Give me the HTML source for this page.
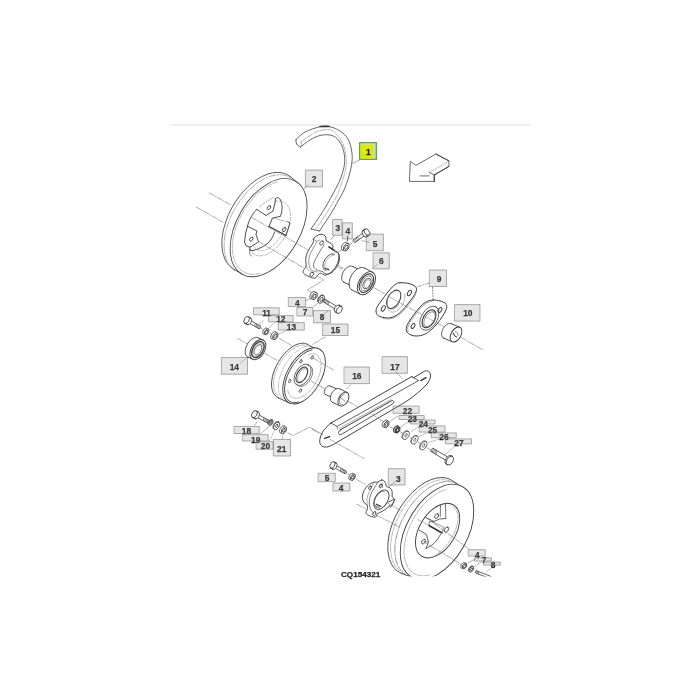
<!DOCTYPE html>
<html><head><meta charset="utf-8"><title>CQ154321</title>
<style>html,body{margin:0;padding:0;background:#fff}body{width:700px;height:700px;overflow:hidden;font-family:"Liberation Sans",sans-serif}svg{display:block;will-change:transform;opacity:.999}text{font-family:"Liberation Sans",sans-serif}</style>
</head><body>
<svg width="700" height="700" viewBox="0 0 700 700" stroke-linecap="round" stroke-linejoin="round">
<rect width="700" height="700" fill="#fff"/>
<rect x="171" y="124" width="359" height="1.8" fill="#eeeeee"/>
<path d="M296 139.5 C297.5 138.2 301 134.1 305 132 C309 129.9 316 127.6 320 126.7 C324 125.8 325.7 125.8 329 126.5 C332.3 127.2 336.8 128.9 340 131 C343.2 133.1 346.1 135.8 348 139 C349.9 142.2 350.8 146.2 351.5 150 C352.2 153.8 352.4 157.7 352 162 C351.6 166.3 350.3 171.3 349 176 C347.7 180.7 345.7 186 344 190 C342.3 194 340.9 195.8 338.6 200 C336.3 204.2 333.2 209.8 330 215 C326.8 220.2 321.2 228.3 319.5 231" fill="none" stroke="#555" stroke-width="0.9"/>
<path d="M300.5 147 C302.1 145.8 306.8 141.9 310 140 C313.2 138.1 316.7 136.3 320 135.5 C323.3 134.7 327.2 134.5 330 135 C332.8 135.5 335 136.7 337 138.5 C339 140.3 340.8 143.1 342 146 C343.2 148.9 344.2 152.5 344.5 156 C344.8 159.5 344.8 163 344 167 C343.2 171 341.5 176.2 340 180 C338.5 183.8 337.5 185.3 335 190 C332.5 194.7 329 201.5 325 208 C321 214.5 313.3 225.5 311 229" fill="none" stroke="#555" stroke-width="0.9"/>
<path d="M301 141.8 C303.3 140.2 311 134.5 315 132.5 C319 130.5 321.8 129.9 325 129.7 C328.2 129.5 331 129.1 334 131.5 C337 133.9 340.9 139.2 343 144 C345.1 148.8 346 155.3 346.3 160 C346.6 164.7 346.1 167.3 345 172 C343.9 176.7 341.6 183.7 340 188 C338.4 192.3 338 193.7 335.7 198 C333.4 202.3 329.2 208.9 326 214 C322.8 219.1 318 226.1 316.4 228.5" fill="none" stroke="#888" stroke-width="0.6" stroke-dasharray="6 1.5"/>
<path d="M296 139.5 C296.1 140.2 295.9 142.8 296.6 144 C297.4 145.2 299.9 146.5 300.5 147" fill="none" stroke="#444" stroke-width="0.9"/>
<path d="M301 141.8 C301.2 142.3 302.1 144.1 302 145 C301.9 145.9 300.8 146.7 300.5 147" fill="none" stroke="#777" stroke-width="0.6"/>
<path d="M311 229 L319.5 231" fill="none" stroke="#555" stroke-width="0.9"/>
<path d="M320 126.5 L329 126.5" fill="none" stroke="#333" stroke-width="1.3"/>
<path d="M234.6 269.7 C234 269.2 232 268.1 230.8 267.1 C229.6 266.1 228.6 265 227.6 263.7 C226.6 262.4 225.8 260.9 225 259.4 C224.3 257.8 223.7 256.1 223.2 254.3 C222.7 252.5 222.4 250.6 222.2 248.6 C221.9 246.6 221.8 244.5 221.9 242.4 C221.9 240.2 222.1 238 222.4 235.7 C222.7 233.4 223.1 231.1 223.7 228.8 C224.3 226.4 225 224 225.8 221.7 C226.6 219.3 227.5 217 228.5 214.6 C229.5 212.3 230.7 210 231.9 207.7 C233.2 205.5 234.5 203.2 235.9 201.1 C237.4 199 238.9 196.9 240.5 194.9 C242 192.9 243.7 191 245.4 189.3 C247.1 187.5 248.8 185.8 250.6 184.3 C252.4 182.8 254.2 181.3 256.1 180.1 C257.9 178.8 259.8 177.7 261.6 176.7 C263.4 175.8 265.3 175 267.1 174.3 C269 173.7 270.8 173.2 272.5 172.9 C274.3 172.5 276 172.4 277.7 172.4 C279.3 172.4 281 172.6 282.5 172.9 C284 173.3 285.5 173.8 286.9 174.5 C288.2 175.2 290.1 176.6 290.7 177" fill="none" stroke="#4a4a4a" stroke-width="0.9"/>
<path d="M290.7 177 L299 183.8" fill="none" stroke="#4a4a4a" stroke-width="0.9"/>
<path d="M234.6 269.7 L242.8 274.5" fill="none" stroke="#4a4a4a" stroke-width="0.9"/>
<path d="M234.9 270.7 C234.3 270.2 232.5 268.9 231.4 267.7 C230.3 266.6 229.3 265.3 228.5 263.8 C227.6 262.4 226.9 260.8 226.3 259.2 C225.7 257.5 225.2 255.7 224.9 253.8 C224.5 251.9 224.3 249.9 224.2 247.8 C224.1 245.7 224.1 243.5 224.3 241.3 C224.5 239.1 224.8 236.8 225.2 234.5 C225.6 232.2 226.2 229.9 226.9 227.5 C227.6 225.2 228.4 222.8 229.3 220.4 C230.2 218.1 231.2 215.7 232.4 213.4 C233.5 211.1 234.8 208.9 236.1 206.7 C237.4 204.5 238.9 202.3 240.4 200.2 C241.9 198.2 243.5 196.2 245.1 194.3 C246.7 192.4 248.4 190.7 250.2 189 C251.9 187.3 253.7 185.8 255.5 184.4 C257.3 183 259.2 181.7 261 180.6 C262.9 179.5 264.7 178.5 266.6 177.7 C268.4 176.9 270.3 176.3 272.1 175.8 C273.8 175.3 275.6 175 277.3 174.8 C279.1 174.7 280.7 174.7 282.3 174.9 C283.9 175.1 285.5 175.4 286.9 176 C288.4 176.5 290.4 177.7 291 178" fill="none" stroke="#777" stroke-width="0.6" stroke-dasharray="7 1.5 1.5 1.5"/>
<ellipse cx="268.6" cy="227.6" rx="53.6" ry="31.8" transform="rotate(-60 268.6 227.6)" fill="none" stroke="#4a4a4a" stroke-width="0.9"/>
<path d="M259.9 273.4 C259.1 273.5 256.5 274.1 254.9 274.2 C253.3 274.3 251.8 274.3 250.3 274.1 C248.8 273.9 247.4 273.5 246 273 C244.7 272.5 243.4 271.8 242.2 271 C241 270.2 239.9 269.2 238.9 268.1 C237.9 267 237 265.8 236.2 264.4 C235.5 263 234.8 261.5 234.3 259.9 C233.7 258.3 233.3 256.6 233 254.8 C232.6 253 232.5 251.1 232.4 249.1 C232.3 247.2 232.4 245.1 232.6 243 C232.8 240.9 233.1 238.8 233.5 236.6 C233.9 234.4 234.5 232.2 235.1 230 C235.8 227.8 236.6 225.5 237.5 223.3 C238.4 221.1 239.4 218.9 240.4 216.8 C241.5 214.6 242.7 212.5 244 210.4 C245.3 208.4 246.6 206.3 248 204.4 C249.5 202.5 251 200.6 252.5 198.9 C254.1 197.1 255.7 195.5 257.3 193.9 C259 192.4 260.7 191 262.4 189.7 C264.1 188.4 265.8 187.2 267.6 186.2 C269.3 185.2 271.1 184.3 272.8 183.5 C274.5 182.8 277.1 182.1 277.9 181.8" fill="none" stroke="#888" stroke-width="0.6" stroke-dasharray="5 1.2"/>
<path d="M274.6 201.5 C275 201.4 276.5 201.1 277.4 201 C278.4 200.9 279.3 201 280.1 201.1 C281 201.2 281.8 201.4 282.6 201.7 C283.4 202 284.1 202.3 284.8 202.8 C285.5 203.3 286.2 203.8 286.7 204.5 C287.3 205.1 287.8 205.8 288.3 206.6 C288.7 207.4 289.1 208.2 289.5 209.2 C289.8 210.1 290 211.1 290.2 212.1 C290.4 213.1 290.5 214.2 290.6 215.4 C290.6 216.5 290.6 217.7 290.5 218.9 C290.4 220.1 290.2 221.4 290 222.6 C289.7 223.9 289.4 225.2 289.1 226.5 C288.7 227.7 288.2 229.1 287.7 230.3 C287.2 231.6 286.7 232.9 286.1 234.2 C285.4 235.4 284.8 236.7 284 237.9 C283.3 239.1 282.5 240.3 281.7 241.4 C280.9 242.6 280 243.7 279.1 244.7 C278.3 245.7 277.3 246.7 276.4 247.7 C275.4 248.6 274.4 249.4 273.5 250.2 C272.5 251 271.5 251.7 270.5 252.3 C269.5 253 268.4 253.5 267.4 254 C266.4 254.5 265.4 254.8 264.5 255.1 C263.5 255.4 262.5 255.6 261.6 255.7 C260.6 255.8 259.7 255.9 258.8 255.8 C257.9 255.7 257.1 255.6 256.3 255.3 C255.5 255 254.7 254.7 254 254.3 C253.3 253.8 252.6 253.3 252 252.7 C251.4 252.1 250.9 251.5 250.4 250.7 C249.9 250 249.4 248.6 249.2 248.2" fill="none" stroke="#888" stroke-width="0.6" stroke-dasharray="3 1.5"/>
<path d="M284.6 227.7 C284.4 228.2 283.9 229.8 283.4 230.9 C282.9 232 282.4 233.1 281.9 234.1 C281.3 235.1 280.7 236.2 280.1 237.2 C279.4 238.2 278.7 239.1 278 240.1 C277.3 241 276.6 241.9 275.8 242.7 C275 243.5 274.2 244.3 273.4 245 C272.6 245.7 271.8 246.4 270.9 247 C270.1 247.6 269.2 248.1 268.4 248.5 C267.5 249 266.7 249.4 265.9 249.7 C265 250 264.2 250.2 263.4 250.4 C262.6 250.5 261.8 250.6 261.1 250.6 C260.3 250.6 259.6 250.5 258.9 250.3 C258.2 250.2 257.5 249.9 256.9 249.6 C256.3 249.3 255.7 248.9 255.2 248.4 C254.7 248 254 247.1 253.8 246.8" fill="none" stroke="#999" stroke-width="0.6" stroke-dasharray="3 1.5"/>
<path d="M247.5 226 C247.9 224.8 248.9 221.2 250 219 C251.1 216.8 252.8 214.1 254 212.5 C255.2 210.9 256.5 210 257 209.5" fill="none" stroke="#3a3a3a" stroke-width="0.9"/>
<path d="M257 209.5 L260 211.5 L266 215.5 L273 211 L275 203 L275.5 199" fill="none" stroke="#3a3a3a" stroke-width="0.9"/>
<path d="M260 207 L261.5 204.8 L273 197.5 L275.5 199" fill="none" stroke="#888" stroke-width="0.6" stroke-dasharray="3 1.2"/>
<path d="M275.5 199 C275.9 198.8 277.2 197.3 278 197.5 C278.8 197.7 279.8 198.6 280.5 200 C281.2 201.4 281.8 203.8 282 206 C282.2 208.2 281.8 211.2 281.5 213 C281.2 214.8 280.2 215.9 280 216.5" fill="none" stroke="#3a3a3a" stroke-width="0.9"/>
<path d="M280 216.5 L272.5 218 L269 226.5" fill="none" stroke="#3a3a3a" stroke-width="0.9"/>
<path d="M269 226.5 L286 235.5" fill="none" stroke="#333" stroke-width="1.2"/>
<path d="M286 235.5 L290 223 L287.8 221.8" fill="none" stroke="#3a3a3a" stroke-width="0.9"/>
<path d="M273 218.2 L287.8 221.8" fill="none" stroke="#888" stroke-width="0.6" stroke-dasharray="3 1.2"/>
<path d="M274.5 232 C274.1 233 273.2 236 272 238 C270.8 240 269 242.3 267 244 C265 245.7 262.3 246.9 260 248 C257.7 249.1 254.7 250.2 253 250.5 C251.3 250.8 250.5 250.1 250 250" fill="none" stroke="#3a3a3a" stroke-width="0.9"/>
<path d="M250 250 C249.9 250.7 249.2 253 249.5 254 C249.8 255 251.6 255.7 252 256" fill="none" stroke="#666" stroke-width="0.7"/>
<path d="M247.5 226.2 L257 231 L256 234.5 L258.5 242 L250 247.2 L246.2 246 L244.5 242 L245.5 234 L247.5 226.2" fill="none" stroke="#3a3a3a" stroke-width="0.9"/>
<path d="M250 247.2 L250 250" fill="none" stroke="#3a3a3a" stroke-width="0.9"/>
<ellipse cx="269" cy="207.6" rx="2.2" ry="1.5" transform="rotate(-50 269 207.6)" fill="none" stroke="#3a3a3a" stroke-width="0.8"/>
<ellipse cx="284.2" cy="229.5" rx="2.3" ry="1.6" transform="rotate(-55 284.2 229.5)" fill="none" stroke="#3a3a3a" stroke-width="0.8"/>
<ellipse cx="251.3" cy="239.2" rx="2.2" ry="1.5" transform="rotate(-50 251.3 239.2)" fill="none" stroke="#3a3a3a" stroke-width="0.8"/>
<path d="M313.4 239.1 C313.8 238.2 314.5 237.4 315.6 236.6 C316.6 235.8 318.5 234.7 319.9 234.4 C321.2 234.1 322.7 234.4 323.7 234.9 C324.7 235.3 325.4 236 325.9 237 C326.3 238 325.4 239.8 326.3 240.9 C327.1 241.9 329.9 242.5 331 243.4 C332.1 244.4 332.9 245.5 333.1 246.4 C333.4 247.4 331.9 247.9 332.7 249 C333.6 250.1 337.3 251.3 338.3 252.9 C339.3 254.4 338.9 256.6 338.7 258.4 C338.6 260.2 338.1 261.9 337.4 263.6 C336.7 265.3 335.6 267.1 334.4 268.7 C333.2 270.3 331.7 271.9 330.1 273 C328.6 274.1 326.6 275.1 325 275.1 C323.4 275.2 322 273.1 320.7 273.2 C319.4 273.2 318.2 274.7 317.3 275.6 C316.4 276.4 316.3 277.9 315.1 278.1 C314 278.4 311.9 277.8 310.4 277.3 C308.9 276.8 307.4 275.9 306.1 275.1 C304.9 274.4 303.5 273.5 303.1 272.6 C302.8 271.6 303.5 270.6 304 269.6 C304.5 268.5 305.9 267.9 306.1 266.1 C306.4 264.4 305.5 261.6 305.7 259.3 C305.9 257 306.6 254.6 307.4 252.4 C308.3 250.3 309.9 248.1 310.9 246.4 C311.9 244.7 313 243.4 313.4 242.1 C313.9 240.9 313.1 240.1 313.4 239.1 Z" fill="none" stroke="#3a3a3a" stroke-width="0.9"/>
<path d="M316.9 241.3 C316.3 242.4 314.6 246 313.4 248.1 C312.3 250.3 310.8 252 310 254.1 C309.2 256.3 308.8 258.9 308.7 261 C308.6 263.1 309 265.4 309.6 267 C310.1 268.6 310.9 269.6 312.1 270.4 C313.4 271.3 316.4 271.7 317.3 272" fill="none" stroke="#666" stroke-width="0.7"/>
<path d="M324.1 244.7 C323.6 245.6 322 247.7 320.7 249.9 C319.4 252 317.6 255.3 316.4 257.6 C315.3 259.9 314 261.9 313.7 263.6 C313.3 265.3 313.6 266.7 314.3 267.9 C315 269 316.4 269.8 317.7 270.4 C319.1 271 321.6 271.3 322.4 271.5" fill="none" stroke="#555" stroke-width="0.8"/>
<path d="M313.4 239.1 C314 239.5 315.8 241.1 316.9 241.3 C317.9 241.4 319.4 240.2 319.9 240" fill="none" stroke="#666" stroke-width="0.7"/>
<path d="M334.4 251.7 C334.6 251.8 335.1 251.8 335.5 251.8 C335.8 251.9 336.2 252 336.5 252.1 C336.8 252.3 337.1 252.4 337.4 252.6 C337.6 252.9 337.9 253.1 338.1 253.4 C338.3 253.6 338.5 254 338.7 254.3 C338.9 254.6 339 255 339.2 255.4 C339.3 255.8 339.4 256.2 339.4 256.6 C339.5 257.1 339.5 257.5 339.5 258 C339.5 258.5 339.5 259 339.4 259.5 C339.4 260 339.3 260.5 339.2 261 C339.1 261.5 338.9 262.1 338.8 262.6 C338.6 263.1 338.4 263.7 338.2 264.2 C338 264.7 337.7 265.2 337.5 265.7 C337.2 266.3 336.9 266.8 336.6 267.2 C336.3 267.7 335.9 268.2 335.6 268.7 C335.3 269.1 334.9 269.5 334.5 270 C334.1 270.4 333.8 270.8 333.4 271.1 C333 271.5 332.6 271.8 332.2 272.1 C331.8 272.4 331.3 272.7 330.9 272.9 C330.5 273.1 330.1 273.3 329.7 273.5 C329.3 273.7 328.9 273.8 328.5 273.9 C328.1 274 327.7 274 327.3 274.1 C326.9 274.1 326.6 274.1 326.2 274 C325.9 273.9 325.5 273.8 325.2 273.7 C324.9 273.6 324.6 273.4 324.3 273.2 C324 273 323.8 272.8 323.5 272.5 C323.3 272.2 323 271.7 322.9 271.6" fill="none" stroke="#3a3a3a" stroke-width="0.9"/>
<path d="M325.9 270.6 C325.8 270.6 325.4 270.5 325.2 270.4 C324.9 270.2 324.7 270.1 324.5 269.9 C324.3 269.8 324.1 269.6 324 269.3 C323.8 269.1 323.7 268.9 323.6 268.6 C323.4 268.4 323.3 268.1 323.3 267.8 C323.2 267.5 323.1 267.2 323.1 266.8 C323 266.5 323 266.1 323 265.8 C323 265.4 323.1 265 323.1 264.7 C323.2 264.3 323.3 263.9 323.3 263.5 C323.4 263.1 323.6 262.7 323.7 262.3 C323.8 261.9 324 261.5 324.2 261.1 C324.3 260.7 324.5 260.3 324.7 260 C324.9 259.6 325.2 259.2 325.4 258.8 C325.6 258.5 325.9 258.1 326.2 257.8 C326.4 257.4 326.7 257.1 327 256.8 C327.3 256.5 327.6 256.2 327.9 256 C328.1 255.7 328.5 255.5 328.8 255.3 C329.1 255 329.4 254.8 329.7 254.7 C330 254.5 330.3 254.4 330.6 254.3 C330.9 254.1 331.2 254 331.5 254 C331.8 253.9 332.1 253.9 332.4 253.9 C332.7 253.9 332.9 253.9 333.2 254 C333.5 254 333.7 254.1 333.9 254.2 C334.2 254.3 334.5 254.5 334.6 254.6" fill="none" stroke="#3a3a3a" stroke-width="0.9"/>
<path d="M326.2 269.7 C326.1 269.6 325.8 269.4 325.7 269.2 C325.5 269 325.4 268.8 325.3 268.5 C325.1 268.3 325.1 268 325 267.8 C324.9 267.5 324.8 267.2 324.8 266.9 C324.8 266.6 324.8 266.3 324.8 266 C324.8 265.7 324.8 265.3 324.8 265 C324.9 264.6 324.9 264.3 325 263.9 C325.1 263.6 325.2 263.2 325.3 262.8 C325.5 262.5 325.6 262.1 325.8 261.8 C325.9 261.4 326.1 261.1 326.3 260.7 C326.5 260.4 326.7 260 326.9 259.7 C327.1 259.4 327.3 259.1 327.6 258.8 C327.8 258.5 328 258.2 328.3 257.9 C328.6 257.6 328.8 257.4 329.1 257.1 C329.4 256.9 329.6 256.7 329.9 256.5 C330.2 256.3 330.5 256.1 330.8 256 C331 255.8 331.3 255.7 331.6 255.6 C331.9 255.5 332.1 255.4 332.4 255.4 C332.7 255.3 332.9 255.3 333.2 255.3 C333.4 255.3 333.8 255.4 333.9 255.4" fill="none" stroke="#777" stroke-width="0.6"/>
<path d="M328.9 246.9 L333.6 250" fill="none" stroke="#333" stroke-width="1.6"/>
<path d="M325.2 268.3 L328.9 269.6" fill="none" stroke="#444" stroke-width="1.3"/>
<ellipse cx="321.6" cy="243" rx="2.3" ry="1.6" transform="rotate(-55 321.6 243)" fill="none" stroke="#3a3a3a" stroke-width="0.8"/>
<ellipse cx="311.8" cy="274.3" rx="2.3" ry="1.6" transform="rotate(-55 311.8 274.3)" fill="none" stroke="#3a3a3a" stroke-width="0.8"/>
<path d="M306.1 266.1 C306.4 266.7 307 268.7 307.9 269.6 C308.7 270.4 310.7 271 311.3 271.3" fill="none" stroke="#777" stroke-width="0.6"/>
<path d="M364.1 232.3 L353.3 239.7" fill="none" stroke="#3a3a3a" stroke-width="0.8"/>
<path d="M365.9 234.8 L355.1 242.3" fill="none" stroke="#3a3a3a" stroke-width="0.8"/>
<path d="M353.3 239.7 C353.3 239.9 352.9 240.5 353 240.9 C353.1 241.3 353.6 241.9 353.9 242.1 C354.2 242.4 354.9 242.3 355.1 242.3" fill="none" stroke="#3a3a3a" stroke-width="0.8"/>
<path d="M353.7 239.7 L355.9 241.5" fill="none" stroke="#555" stroke-width="0.7"/>
<path d="M354.9 238.8 L357.1 240.7" fill="none" stroke="#555" stroke-width="0.7"/>
<path d="M356.1 238 L358.4 239.8" fill="none" stroke="#555" stroke-width="0.7"/>
<path d="M357.4 237.1 L359.6 239" fill="none" stroke="#555" stroke-width="0.7"/>
<g>
<ellipse cx="365" cy="233.6" rx="3.8" ry="2.4" transform="rotate(-124.5 365 233.6)" fill="#fff" stroke="#3a3a3a" stroke-width="0.8"/>
<ellipse cx="367" cy="232.2" rx="3.8" ry="2.4" transform="rotate(-124.5 367 232.2)" fill="#fff" stroke="#3a3a3a" stroke-width="0.8"/>
</g>
<path d="M364.8 229.1 L362.9 230.4" fill="none" stroke="#3a3a3a" stroke-width="0.8"/>
<path d="M369.2 235.3 L367.2 236.7" fill="none" stroke="#3a3a3a" stroke-width="0.8"/>
<path d="M349.1 244.2 L348.9 247.9 L346.1 251.1 L343.5 250.4 L343.7 246.7 L346.5 243.5 Z" fill="none" stroke="#3a3a3a" stroke-width="0.9"/>
<path d="M342.6 250.3 C342.5 250.3 342.3 250.2 342.2 250.1 C342.1 250 342 250 341.9 249.9 C341.8 249.8 341.8 249.6 341.7 249.5 C341.6 249.4 341.6 249.3 341.5 249.1 C341.5 249 341.4 248.8 341.4 248.7 C341.4 248.5 341.3 248.3 341.3 248.2 C341.3 248 341.3 247.8 341.3 247.6 C341.4 247.5 341.4 247.3 341.4 247.1 C341.5 246.9 341.5 246.7 341.6 246.5 C341.6 246.3 341.7 246.1 341.8 245.9 C341.8 245.7 341.9 245.5 342 245.3 C342.1 245.1 342.2 245 342.3 244.8 C342.4 244.6 342.6 244.4 342.7 244.3 C342.8 244.1 342.9 243.9 343.1 243.8 C343.2 243.6 343.3 243.5 343.5 243.3 C343.6 243.2 343.8 243.1 343.9 243 C344.1 242.9 344.2 242.7 344.4 242.7 C344.5 242.6 344.7 242.5 344.9 242.4 C345 242.4 345.2 242.3 345.3 242.3 C345.5 242.2 345.6 242.2 345.8 242.2 C345.9 242.2 346 242.2 346.2 242.2 C346.3 242.2 346.4 242.3 346.6 242.3 C346.7 242.3 346.8 242.4 346.9 242.5 C347 242.5 347.2 242.7 347.2 242.7" fill="none" stroke="#3a3a3a" stroke-width="0.9"/>
<ellipse cx="346.3" cy="247.3" rx="2.2" ry="1.4" transform="rotate(-60 346.3 247.3)" fill="none" stroke="#3a3a3a" stroke-width="0.8"/>
<path d="M342.3 249.5 L338 252.3" fill="none" stroke="#777" stroke-width="0.6" stroke-dasharray="5 1.5 1 1.5"/>
<path d="M350.3 244.3 L352.4 242.6" fill="none" stroke="#777" stroke-width="0.6" stroke-dasharray="5 1.5 1 1.5"/>
<path d="M317.2 293.3 L317 296.8 L314.3 299.7 L311.8 299.1 L312 295.6 L314.7 292.7 Z" fill="none" stroke="#3a3a3a" stroke-width="0.9"/>
<path d="M311 299 C311 299 310.8 298.9 310.7 298.8 C310.6 298.8 310.5 298.7 310.4 298.6 C310.3 298.5 310.3 298.4 310.2 298.3 C310.1 298.2 310.1 298 310 297.9 C310 297.8 309.9 297.6 309.9 297.5 C309.9 297.3 309.9 297.2 309.9 297 C309.9 296.9 309.9 296.7 309.9 296.5 C309.9 296.3 309.9 296.2 310 296 C310 295.8 310 295.6 310.1 295.4 C310.1 295.3 310.2 295.1 310.3 294.9 C310.3 294.7 310.4 294.5 310.5 294.4 C310.6 294.2 310.7 294 310.8 293.8 C310.9 293.7 311 293.5 311.1 293.4 C311.2 293.2 311.4 293.1 311.5 292.9 C311.6 292.8 311.7 292.6 311.9 292.5 C312 292.4 312.2 292.3 312.3 292.2 C312.4 292.1 312.6 292 312.7 291.9 C312.9 291.8 313 291.7 313.2 291.7 C313.3 291.6 313.4 291.5 313.6 291.5 C313.7 291.5 313.9 291.5 314 291.4 C314.1 291.4 314.3 291.4 314.4 291.5 C314.5 291.5 314.6 291.5 314.7 291.5 C314.9 291.6 315 291.6 315.1 291.7 C315.2 291.8 315.3 291.9 315.3 291.9" fill="none" stroke="#3a3a3a" stroke-width="0.9"/>
<ellipse cx="314.5" cy="296.2" rx="2" ry="1.3" transform="rotate(-60 314.5 296.2)" fill="none" stroke="#3a3a3a" stroke-width="0.8"/>
<ellipse cx="321.4" cy="299.3" rx="4.3" ry="2.6" transform="rotate(-60 321.4 299.3)" fill="none" stroke="#3a3a3a" stroke-width="0.8"/>
<path d="M318.8 302.7 C318.7 302.7 318.5 302.6 318.4 302.5 C318.3 302.5 318.2 302.4 318.2 302.3 C318.1 302.2 318 302.1 317.9 302 C317.9 301.8 317.8 301.7 317.8 301.6 C317.7 301.4 317.7 301.3 317.7 301.1 C317.6 301 317.6 300.8 317.6 300.6 C317.6 300.5 317.6 300.3 317.6 300.1 C317.6 299.9 317.7 299.8 317.7 299.6 C317.8 299.4 317.8 299.2 317.9 299 C317.9 298.8 318 298.6 318.1 298.4 C318.1 298.3 318.2 298.1 318.3 297.9 C318.4 297.7 318.5 297.5 318.6 297.3 C318.7 297.2 318.9 297 319 296.8 C319.1 296.7 319.2 296.5 319.4 296.4 C319.5 296.2 319.6 296.1 319.8 296 C319.9 295.8 320.1 295.7 320.2 295.6 C320.4 295.5 320.5 295.4 320.7 295.3 C320.8 295.3 321 295.2 321.1 295.1 C321.3 295.1 321.4 295 321.6 295 C321.7 295 321.8 295 322 295 C322.1 295 322.2 295 322.4 295 C322.5 295 322.6 295.1 322.7 295.1 C322.8 295.2 323 295.3 323 295.3" fill="none" stroke="#3a3a3a" stroke-width="0.8"/>
<ellipse cx="321.4" cy="299.3" rx="2.1" ry="1.3" transform="rotate(-60 321.4 299.3)" fill="none" stroke="#3a3a3a" stroke-width="0.8"/>
<path d="M338.1 307.2 L324.8 299.2" fill="none" stroke="#3a3a3a" stroke-width="0.8"/>
<path d="M336.5 309.9 L323.2 301.8" fill="none" stroke="#3a3a3a" stroke-width="0.8"/>
<path d="M324.8 299.2 C324.6 299.2 324 299.1 323.6 299.4 C323.3 299.6 322.9 300.3 322.8 300.7 C322.8 301.1 323.1 301.6 323.2 301.8" fill="none" stroke="#3a3a3a" stroke-width="0.8"/>
<path d="M325 299.5 L324.2 302.3" fill="none" stroke="#555" stroke-width="0.7"/>
<path d="M326.3 300.2 L325.5 303" fill="none" stroke="#555" stroke-width="0.7"/>
<path d="M327.5 301 L326.8 303.8" fill="none" stroke="#555" stroke-width="0.7"/>
<path d="M328.8 301.8 L328.1 304.6" fill="none" stroke="#555" stroke-width="0.7"/>
<g>
<ellipse cx="337.3" cy="308.6" rx="4" ry="2.5" transform="rotate(-58.9 337.3 308.6)" fill="#fff" stroke="#3a3a3a" stroke-width="0.8"/>
<ellipse cx="339.4" cy="309.8" rx="4" ry="2.5" transform="rotate(-58.9 339.4 309.8)" fill="#fff" stroke="#3a3a3a" stroke-width="0.8"/>
</g>
<path d="M341.5 306.4 L339.4 305.1" fill="none" stroke="#3a3a3a" stroke-width="0.8"/>
<path d="M337.3 313.2 L335.3 312" fill="none" stroke="#3a3a3a" stroke-width="0.8"/>
<path d="M248.1 322.6 L258.9 328.6" fill="none" stroke="#3a3a3a" stroke-width="0.8"/>
<path d="M249.6 320 L260.3 326" fill="none" stroke="#3a3a3a" stroke-width="0.8"/>
<path d="M258.9 328.6 C259.1 328.6 259.7 328.6 260 328.4 C260.3 328.1 260.7 327.5 260.8 327.1 C260.8 326.7 260.4 326.2 260.3 326" fill="none" stroke="#3a3a3a" stroke-width="0.8"/>
<path d="M258.7 328.3 L259.3 325.6" fill="none" stroke="#555" stroke-width="0.7"/>
<path d="M257.4 327.6 L258 324.8" fill="none" stroke="#555" stroke-width="0.7"/>
<path d="M256.1 326.9 L256.7 324.1" fill="none" stroke="#555" stroke-width="0.7"/>
<path d="M254.8 326.1 L255.4 323.4" fill="none" stroke="#555" stroke-width="0.7"/>
<g>
<ellipse cx="248.9" cy="321.3" rx="3.8" ry="2.4" transform="rotate(119.3 248.9 321.3)" fill="#fff" stroke="#3a3a3a" stroke-width="0.8"/>
<ellipse cx="246.6" cy="320" rx="3.8" ry="2.4" transform="rotate(119.3 246.6 320)" fill="#fff" stroke="#3a3a3a" stroke-width="0.8"/>
</g>
<path d="M244.7 323.3 L247 324.6" fill="none" stroke="#3a3a3a" stroke-width="0.8"/>
<path d="M248.5 316.7 L250.7 318" fill="none" stroke="#3a3a3a" stroke-width="0.8"/>
<path d="M268.8 329.6 L268.6 332.5 L266.4 334.9 L264.4 334.4 L264.6 331.5 L266.8 329.1 Z" fill="none" stroke="#3a3a3a" stroke-width="0.9"/>
<path d="M263.7 334.3 C263.7 334.3 263.5 334.2 263.4 334.2 C263.4 334.1 263.3 334.1 263.2 334 C263.1 333.9 263.1 333.8 263 333.7 C263 333.6 262.9 333.5 262.9 333.4 C262.9 333.3 262.8 333.2 262.8 333.1 C262.8 332.9 262.8 332.8 262.8 332.7 C262.8 332.5 262.8 332.4 262.8 332.3 C262.8 332.1 262.8 332 262.8 331.8 C262.9 331.7 262.9 331.5 262.9 331.4 C263 331.2 263 331.1 263.1 330.9 C263.1 330.8 263.2 330.6 263.3 330.5 C263.4 330.3 263.4 330.2 263.5 330.1 C263.6 329.9 263.7 329.8 263.8 329.6 C263.9 329.5 264 329.4 264.1 329.3 C264.2 329.2 264.3 329 264.4 328.9 C264.5 328.8 264.7 328.7 264.8 328.6 C264.9 328.6 265 328.5 265.1 328.4 C265.2 328.3 265.4 328.3 265.5 328.2 C265.6 328.2 265.7 328.1 265.8 328.1 C266 328.1 266.1 328.1 266.2 328.1 C266.3 328 266.4 328.1 266.5 328.1 C266.6 328.1 266.7 328.1 266.8 328.1 C266.9 328.2 267 328.2 267.1 328.3 C267.2 328.3 267.3 328.4 267.3 328.5" fill="none" stroke="#3a3a3a" stroke-width="0.9"/>
<ellipse cx="266.6" cy="332" rx="1.7" ry="1.1" transform="rotate(-60 266.6 332)" fill="none" stroke="#3a3a3a" stroke-width="0.8"/>
<path d="M277.9 333.5 L277.7 336.9 L275.1 339.7 L272.7 339.1 L272.9 335.7 L275.5 332.9 Z" fill="none" stroke="#3a3a3a" stroke-width="0.9"/>
<path d="M271.9 339 C271.8 339 271.7 338.9 271.6 338.9 C271.5 338.8 271.4 338.7 271.3 338.6 C271.2 338.5 271.2 338.4 271.1 338.3 C271 338.2 271 338.1 270.9 338 C270.9 337.8 270.9 337.7 270.8 337.5 C270.8 337.4 270.8 337.3 270.8 337.1 C270.8 336.9 270.8 336.8 270.8 336.6 C270.8 336.4 270.8 336.3 270.9 336.1 C270.9 335.9 270.9 335.7 271 335.6 C271 335.4 271.1 335.2 271.2 335 C271.2 334.9 271.3 334.7 271.4 334.5 C271.5 334.3 271.6 334.2 271.7 334 C271.8 333.8 271.9 333.7 272 333.5 C272.1 333.4 272.2 333.2 272.4 333.1 C272.5 333 272.6 332.8 272.7 332.7 C272.9 332.6 273 332.5 273.2 332.4 C273.3 332.3 273.4 332.2 273.6 332.1 C273.7 332 273.8 331.9 274 331.9 C274.1 331.8 274.3 331.8 274.4 331.7 C274.5 331.7 274.7 331.7 274.8 331.7 C274.9 331.7 275.1 331.7 275.2 331.7 C275.3 331.7 275.4 331.7 275.5 331.8 C275.6 331.8 275.8 331.8 275.9 331.9 C275.9 332 276.1 332.1 276.1 332.1" fill="none" stroke="#3a3a3a" stroke-width="0.9"/>
<ellipse cx="275.3" cy="336.3" rx="2" ry="1.3" transform="rotate(-60 275.3 336.3)" fill="none" stroke="#3a3a3a" stroke-width="0.8"/>
<path d="M256 416.8 L267.5 422.9" fill="none" stroke="#3a3a3a" stroke-width="0.8"/>
<path d="M257.4 414.1 L268.9 420.3" fill="none" stroke="#3a3a3a" stroke-width="0.8"/>
<path d="M267.5 422.9 C267.7 422.9 268.3 422.9 268.6 422.7 C268.9 422.4 269.3 421.8 269.3 421.4 C269.4 421 269 420.5 268.9 420.3" fill="none" stroke="#3a3a3a" stroke-width="0.8"/>
<path d="M267.3 422.6 L267.9 419.9" fill="none" stroke="#555" stroke-width="0.7"/>
<path d="M266 421.9 L266.5 419.2" fill="none" stroke="#555" stroke-width="0.7"/>
<path d="M264.7 421.2 L265.2 418.5" fill="none" stroke="#555" stroke-width="0.7"/>
<path d="M263.3 420.5 L263.9 417.8" fill="none" stroke="#555" stroke-width="0.7"/>
<g>
<ellipse cx="256.7" cy="415.4" rx="3.8" ry="2.4" transform="rotate(118.2 256.7 415.4)" fill="#fff" stroke="#3a3a3a" stroke-width="0.8"/>
<ellipse cx="254.4" cy="414.2" rx="3.8" ry="2.4" transform="rotate(118.2 254.4 414.2)" fill="#fff" stroke="#3a3a3a" stroke-width="0.8"/>
</g>
<path d="M252.6 417.5 L254.9 418.8" fill="none" stroke="#3a3a3a" stroke-width="0.8"/>
<path d="M256.2 410.9 L258.5 412.1" fill="none" stroke="#3a3a3a" stroke-width="0.8"/>
<ellipse cx="271" cy="422.6" rx="3" ry="1.8" transform="rotate(-60 271 422.6)" fill="none" stroke="#3a3a3a" stroke-width="0.8"/>
<path d="M268.9 424.9 C268.9 424.8 268.8 424.8 268.7 424.7 C268.7 424.7 268.6 424.6 268.5 424.6 C268.5 424.5 268.4 424.4 268.4 424.3 C268.3 424.3 268.3 424.2 268.3 424.1 C268.2 424 268.2 423.9 268.2 423.8 C268.2 423.7 268.1 423.5 268.1 423.4 C268.1 423.3 268.1 423.2 268.2 423.1 C268.2 422.9 268.2 422.8 268.2 422.7 C268.2 422.5 268.3 422.4 268.3 422.3 C268.4 422.1 268.4 422 268.5 421.9 C268.5 421.7 268.6 421.6 268.6 421.5 C268.7 421.4 268.8 421.2 268.9 421.1 C268.9 421 269 420.9 269.1 420.8 C269.2 420.7 269.3 420.5 269.4 420.4 C269.5 420.3 269.6 420.2 269.7 420.2 C269.8 420.1 269.9 420 270 419.9 C270.1 419.8 270.2 419.8 270.3 419.7 C270.4 419.7 270.5 419.6 270.6 419.6 C270.7 419.5 270.8 419.5 270.9 419.5 C271 419.5 271.1 419.5 271.2 419.5 C271.3 419.4 271.4 419.5 271.5 419.5 C271.6 419.5 271.6 419.5 271.7 419.6 C271.8 419.6 271.9 419.7 271.9 419.7" fill="none" stroke="#3a3a3a" stroke-width="0.8"/>
<ellipse cx="271" cy="422.6" rx="1.5" ry="0.9" transform="rotate(-60 271 422.6)" fill="none" stroke="#3a3a3a" stroke-width="0.8"/>
<ellipse cx="276.7" cy="425.8" rx="4.2" ry="2.5" transform="rotate(-60 276.7 425.8)" fill="none" stroke="#3a3a3a" stroke-width="0.8"/>
<path d="M274.1 429.1 C274.1 429.1 273.9 429 273.8 429 C273.7 428.9 273.6 428.8 273.5 428.7 C273.4 428.6 273.4 428.5 273.3 428.4 C273.2 428.3 273.2 428.2 273.1 428 C273.1 427.9 273 427.7 273 427.6 C273 427.4 273 427.3 273 427.1 C273 426.9 273 426.8 273 426.6 C273 426.4 273 426.2 273.1 426.1 C273.1 425.9 273.2 425.7 273.2 425.5 C273.3 425.3 273.3 425.1 273.4 424.9 C273.5 424.8 273.6 424.6 273.7 424.4 C273.8 424.2 273.9 424.1 274 423.9 C274.1 423.7 274.2 423.5 274.3 423.4 C274.4 423.2 274.6 423.1 274.7 422.9 C274.8 422.8 275 422.7 275.1 422.5 C275.3 422.4 275.4 422.3 275.5 422.2 C275.7 422.1 275.8 422 276 421.9 C276.1 421.8 276.3 421.8 276.4 421.7 C276.6 421.7 276.7 421.6 276.8 421.6 C277 421.6 277.1 421.6 277.2 421.6 C277.4 421.5 277.5 421.6 277.6 421.6 C277.8 421.6 277.9 421.6 278 421.7 C278.1 421.7 278.2 421.9 278.3 421.9" fill="none" stroke="#3a3a3a" stroke-width="0.8"/>
<ellipse cx="276.7" cy="425.8" rx="1.7" ry="1" transform="rotate(-60 276.7 425.8)" fill="none" stroke="#3a3a3a" stroke-width="0.8"/>
<path d="M286.4 427.6 L286.2 431 L283.7 433.7 L281.4 433.2 L281.6 429.8 L284.1 427.1 Z" fill="none" stroke="#3a3a3a" stroke-width="0.9"/>
<path d="M280.6 433.1 C280.5 433 280.4 433 280.3 432.9 C280.2 432.8 280.1 432.8 280 432.7 C279.9 432.6 279.9 432.5 279.8 432.4 C279.7 432.3 279.7 432.1 279.6 432 C279.6 431.9 279.6 431.8 279.5 431.6 C279.5 431.5 279.5 431.3 279.5 431.2 C279.5 431 279.5 430.9 279.5 430.7 C279.5 430.5 279.5 430.4 279.6 430.2 C279.6 430 279.6 429.9 279.7 429.7 C279.7 429.5 279.8 429.3 279.9 429.2 C279.9 429 280 428.8 280.1 428.7 C280.2 428.5 280.3 428.3 280.4 428.2 C280.5 428 280.6 427.8 280.7 427.7 C280.8 427.6 280.9 427.4 281 427.3 C281.2 427.1 281.3 427 281.4 426.9 C281.5 426.8 281.7 426.7 281.8 426.6 C281.9 426.5 282.1 426.4 282.2 426.3 C282.3 426.2 282.5 426.1 282.6 426.1 C282.8 426 282.9 426 283 425.9 C283.2 425.9 283.3 425.9 283.4 425.9 C283.5 425.9 283.7 425.9 283.8 425.9 C283.9 425.9 284 425.9 284.1 426 C284.2 426 284.3 426.1 284.4 426.1 C284.5 426.2 284.7 426.3 284.7 426.3" fill="none" stroke="#3a3a3a" stroke-width="0.9"/>
<ellipse cx="283.9" cy="430.4" rx="1.9" ry="1.2" transform="rotate(-60 283.9 430.4)" fill="none" stroke="#3a3a3a" stroke-width="0.8"/>
<path d="M333.8 467.4 L344.5 473.5" fill="none" stroke="#3a3a3a" stroke-width="0.8"/>
<path d="M335.2 464.9 L345.9 470.9" fill="none" stroke="#3a3a3a" stroke-width="0.8"/>
<path d="M344.5 473.5 C344.7 473.4 345.3 473.5 345.6 473.3 C345.9 473 346.3 472.4 346.3 472 C346.4 471.6 346 471.1 345.9 470.9" fill="none" stroke="#3a3a3a" stroke-width="0.8"/>
<path d="M344.3 473.2 L344.9 470.5" fill="none" stroke="#555" stroke-width="0.7"/>
<path d="M343 472.5 L343.6 469.8" fill="none" stroke="#555" stroke-width="0.7"/>
<path d="M341.7 471.7 L342.3 469.1" fill="none" stroke="#555" stroke-width="0.7"/>
<path d="M340.4 471 L341 468.3" fill="none" stroke="#555" stroke-width="0.7"/>
<g>
<ellipse cx="334.5" cy="466.2" rx="3.6" ry="2.2" transform="rotate(119.4 334.5 466.2)" fill="#fff" stroke="#3a3a3a" stroke-width="0.8"/>
<ellipse cx="332.4" cy="465" rx="3.6" ry="2.2" transform="rotate(119.4 332.4 465)" fill="#fff" stroke="#3a3a3a" stroke-width="0.8"/>
</g>
<path d="M330.6 468.1 L332.7 469.3" fill="none" stroke="#3a3a3a" stroke-width="0.8"/>
<path d="M334.2 461.9 L336.3 463" fill="none" stroke="#3a3a3a" stroke-width="0.8"/>
<path d="M355.2 474.8 L355.1 477.9 L352.7 480.5 L350.6 480 L350.7 476.9 L353.1 474.3 Z" fill="none" stroke="#3a3a3a" stroke-width="0.9"/>
<path d="M349.8 479.9 C349.8 479.8 349.6 479.8 349.6 479.7 C349.5 479.6 349.4 479.6 349.3 479.5 C349.2 479.4 349.2 479.3 349.1 479.2 C349.1 479.1 349 479 349 478.9 C348.9 478.8 348.9 478.7 348.9 478.5 C348.9 478.4 348.8 478.3 348.8 478.1 C348.8 478 348.8 477.8 348.8 477.7 C348.9 477.5 348.9 477.4 348.9 477.2 C348.9 477.1 349 476.9 349 476.7 C349.1 476.6 349.1 476.4 349.2 476.3 C349.2 476.1 349.3 475.9 349.4 475.8 C349.5 475.6 349.6 475.5 349.6 475.3 C349.7 475.2 349.8 475 349.9 474.9 C350 474.8 350.1 474.6 350.3 474.5 C350.4 474.4 350.5 474.3 350.6 474.2 C350.7 474 350.8 473.9 351 473.9 C351.1 473.8 351.2 473.7 351.3 473.6 C351.5 473.5 351.6 473.5 351.7 473.4 C351.8 473.4 352 473.3 352.1 473.3 C352.2 473.3 352.3 473.2 352.5 473.2 C352.6 473.2 352.7 473.2 352.8 473.2 C352.9 473.2 353 473.3 353.1 473.3 C353.2 473.3 353.3 473.4 353.4 473.4 C353.5 473.5 353.6 473.6 353.6 473.7" fill="none" stroke="#3a3a3a" stroke-width="0.9"/>
<ellipse cx="352.9" cy="477.4" rx="1.8" ry="1.2" transform="rotate(-60 352.9 477.4)" fill="none" stroke="#3a3a3a" stroke-width="0.8"/>
<path d="M389 421.8 L388.8 425.1 L386.3 427.8 L384 427.2 L384.2 423.9 L386.7 421.2 Z" fill="none" stroke="#3a3a3a" stroke-width="0.9"/>
<path d="M383.3 427.1 C383.2 427.1 383.1 427 383 426.9 C382.9 426.9 382.8 426.8 382.7 426.7 C382.6 426.6 382.6 426.5 382.5 426.4 C382.5 426.3 382.4 426.2 382.4 426.1 C382.3 426 382.3 425.8 382.3 425.7 C382.2 425.6 382.2 425.4 382.2 425.3 C382.2 425.1 382.2 424.9 382.2 424.8 C382.2 424.6 382.3 424.5 382.3 424.3 C382.3 424.1 382.4 424 382.4 423.8 C382.5 423.6 382.5 423.5 382.6 423.3 C382.6 423.1 382.7 423 382.8 422.8 C382.9 422.6 383 422.5 383.1 422.3 C383.2 422.2 383.3 422 383.4 421.9 C383.5 421.7 383.6 421.6 383.7 421.5 C383.8 421.3 384 421.2 384.1 421.1 C384.2 421 384.3 420.9 384.5 420.8 C384.6 420.7 384.7 420.6 384.9 420.5 C385 420.4 385.1 420.3 385.3 420.3 C385.4 420.2 385.5 420.2 385.6 420.2 C385.8 420.1 385.9 420.1 386 420.1 C386.2 420.1 386.3 420.1 386.4 420.1 C386.5 420.1 386.6 420.1 386.7 420.2 C386.8 420.2 386.9 420.3 387 420.3 C387.1 420.4 387.2 420.5 387.3 420.5" fill="none" stroke="#3a3a3a" stroke-width="0.9"/>
<ellipse cx="386.5" cy="424.5" rx="1.9" ry="1.2" transform="rotate(-60 386.5 424.5)" fill="none" stroke="#3a3a3a" stroke-width="0.8"/>
<path d="M399.9 427.4 L399.7 430.4 L397.4 432.9 L395.3 432.4 L395.5 429.4 L397.8 426.9 Z" fill="none" stroke="#333" stroke-width="1.1"/>
<path d="M394.6 432.3 C394.6 432.3 394.4 432.2 394.4 432.1 C394.3 432.1 394.2 432 394.1 431.9 C394 431.9 394 431.8 393.9 431.7 C393.9 431.6 393.8 431.5 393.8 431.4 C393.7 431.2 393.7 431.1 393.7 431 C393.7 430.9 393.7 430.7 393.6 430.6 C393.6 430.5 393.6 430.3 393.7 430.2 C393.7 430 393.7 429.9 393.7 429.7 C393.7 429.6 393.8 429.4 393.8 429.3 C393.9 429.1 393.9 428.9 394 428.8 C394 428.6 394.1 428.5 394.2 428.3 C394.3 428.2 394.3 428 394.4 427.9 C394.5 427.8 394.6 427.6 394.7 427.5 C394.8 427.3 394.9 427.2 395 427.1 C395.1 427 395.3 426.9 395.4 426.7 C395.5 426.6 395.6 426.5 395.7 426.5 C395.8 426.4 396 426.3 396.1 426.2 C396.2 426.1 396.3 426.1 396.5 426 C396.6 426 396.7 425.9 396.8 425.9 C396.9 425.9 397.1 425.8 397.2 425.8 C397.3 425.8 397.4 425.8 397.5 425.8 C397.6 425.9 397.7 425.9 397.8 425.9 C397.9 426 398 426 398.1 426.1 C398.2 426.1 398.3 426.2 398.3 426.3" fill="none" stroke="#333" stroke-width="1.1"/>
<ellipse cx="397.6" cy="429.9" rx="1.8" ry="1.1" transform="rotate(-60 397.6 429.9)" fill="none" stroke="#333" stroke-width="1"/>
<ellipse cx="406" cy="435.3" rx="4.6" ry="2.8" transform="rotate(-60 406 435.3)" fill="none" stroke="#555" stroke-width="0.8"/>
<path d="M403.2 439 C403.2 439 403 438.9 402.9 438.8 C402.8 438.7 402.7 438.6 402.6 438.5 C402.5 438.4 402.4 438.3 402.3 438.2 C402.3 438.1 402.2 437.9 402.2 437.8 C402.1 437.6 402.1 437.5 402 437.3 C402 437.1 402 437 402 436.8 C402 436.6 402 436.4 402 436.2 C402 436 402.1 435.8 402.1 435.6 C402.1 435.4 402.2 435.2 402.3 435 C402.3 434.8 402.4 434.6 402.5 434.4 C402.6 434.2 402.7 434 402.8 433.8 C402.9 433.6 403 433.4 403.1 433.2 C403.2 433.1 403.3 432.9 403.5 432.7 C403.6 432.5 403.7 432.4 403.9 432.2 C404 432 404.2 431.9 404.3 431.8 C404.5 431.6 404.6 431.5 404.8 431.4 C404.9 431.3 405.1 431.2 405.3 431.1 C405.4 431 405.6 430.9 405.7 430.9 C405.9 430.8 406.1 430.8 406.2 430.7 C406.4 430.7 406.5 430.7 406.7 430.7 C406.8 430.7 406.9 430.7 407.1 430.7 C407.2 430.7 407.3 430.8 407.5 430.8 C407.6 430.9 407.8 431 407.8 431.1" fill="none" stroke="#555" stroke-width="0.8"/>
<ellipse cx="406" cy="435.3" rx="1.7" ry="1" transform="rotate(-60 406 435.3)" fill="none" stroke="#555" stroke-width="0.7"/>
<ellipse cx="414.8" cy="439.9" rx="4.6" ry="2.8" transform="rotate(-60 414.8 439.9)" fill="none" stroke="#555" stroke-width="0.8"/>
<path d="M412 443.6 C412 443.6 411.8 443.5 411.7 443.4 C411.6 443.3 411.5 443.2 411.4 443.1 C411.3 443 411.2 442.9 411.1 442.8 C411.1 442.7 411 442.5 411 442.4 C410.9 442.2 410.9 442.1 410.8 441.9 C410.8 441.7 410.8 441.6 410.8 441.4 C410.8 441.2 410.8 441 410.8 440.8 C410.8 440.6 410.9 440.4 410.9 440.2 C410.9 440 411 439.8 411.1 439.6 C411.1 439.4 411.2 439.2 411.3 439 C411.4 438.8 411.5 438.6 411.6 438.4 C411.7 438.2 411.8 438 411.9 437.8 C412 437.7 412.1 437.5 412.3 437.3 C412.4 437.1 412.5 437 412.7 436.8 C412.8 436.6 413 436.5 413.1 436.4 C413.3 436.2 413.4 436.1 413.6 436 C413.7 435.9 413.9 435.8 414.1 435.7 C414.2 435.6 414.4 435.5 414.5 435.5 C414.7 435.4 414.9 435.4 415 435.3 C415.2 435.3 415.3 435.3 415.5 435.3 C415.6 435.3 415.7 435.3 415.9 435.3 C416 435.3 416.1 435.4 416.3 435.4 C416.4 435.5 416.6 435.6 416.6 435.7" fill="none" stroke="#555" stroke-width="0.8"/>
<ellipse cx="414.8" cy="439.9" rx="1.7" ry="1" transform="rotate(-60 414.8 439.9)" fill="none" stroke="#555" stroke-width="0.7"/>
<ellipse cx="423.6" cy="445.6" rx="4.7" ry="2.8" transform="rotate(-60 423.6 445.6)" fill="none" stroke="#555" stroke-width="0.8"/>
<path d="M420.8 449.4 C420.7 449.3 420.5 449.3 420.4 449.2 C420.3 449.1 420.2 449 420.1 448.9 C420 448.8 419.9 448.7 419.9 448.6 C419.8 448.4 419.7 448.3 419.7 448.1 C419.6 448 419.6 447.8 419.6 447.6 C419.5 447.5 419.5 447.3 419.5 447.1 C419.5 446.9 419.5 446.7 419.5 446.5 C419.6 446.3 419.6 446.1 419.6 445.9 C419.7 445.7 419.7 445.5 419.8 445.3 C419.9 445.1 419.9 444.9 420 444.7 C420.1 444.5 420.2 444.3 420.3 444.1 C420.4 443.9 420.5 443.7 420.6 443.5 C420.8 443.3 420.9 443.1 421 442.9 C421.2 442.8 421.3 442.6 421.5 442.4 C421.6 442.3 421.8 442.1 421.9 442 C422.1 441.9 422.2 441.7 422.4 441.6 C422.5 441.5 422.7 441.4 422.9 441.3 C423 441.2 423.2 441.1 423.4 441.1 C423.5 441 423.7 441 423.8 440.9 C424 440.9 424.1 440.9 424.3 440.9 C424.4 440.9 424.6 440.9 424.7 440.9 C424.9 441 425 441 425.1 441.1 C425.2 441.1 425.4 441.2 425.5 441.3" fill="none" stroke="#555" stroke-width="0.8"/>
<ellipse cx="423.6" cy="445.6" rx="1.8" ry="1.1" transform="rotate(-60 423.6 445.6)" fill="none" stroke="#555" stroke-width="0.7"/>
<path d="M449.8 458.3 L433.2 448.4" fill="none" stroke="#3a3a3a" stroke-width="0.8"/>
<path d="M447.8 461.5 L431.2 451.6" fill="none" stroke="#3a3a3a" stroke-width="0.8"/>
<path d="M433.2 448.4 C433 448.4 432.3 448.4 431.9 448.7 C431.5 449.1 431.1 449.9 430.9 450.4 C430.8 450.8 431.2 451.4 431.2 451.6" fill="none" stroke="#3a3a3a" stroke-width="0.8"/>
<path d="M433.3 448.7 L432.3 452" fill="none" stroke="#555" stroke-width="0.7"/>
<path d="M434.6 449.5 L433.6 452.8" fill="none" stroke="#555" stroke-width="0.7"/>
<path d="M435.9 450.2 L434.8 453.6" fill="none" stroke="#555" stroke-width="0.7"/>
<path d="M437.2 451 L436.1 454.3" fill="none" stroke="#555" stroke-width="0.7"/>
<g>
<ellipse cx="448.8" cy="459.9" rx="4.9" ry="3" transform="rotate(-59.2 448.8 459.9)" fill="#fff" stroke="#3a3a3a" stroke-width="0.8"/>
<ellipse cx="450" cy="460.6" rx="4.9" ry="3" transform="rotate(-59.2 450 460.6)" fill="#fff" stroke="#3a3a3a" stroke-width="0.8"/>
</g>
<path d="M452.5 456.4 L451.3 455.7" fill="none" stroke="#3a3a3a" stroke-width="0.8"/>
<path d="M447.5 464.8 L446.3 464.1" fill="none" stroke="#3a3a3a" stroke-width="0.8"/>
<path d="M466.6 563.9 L466.4 566.7 L464.3 568.9 L462.4 568.5 L462.6 565.7 L464.7 563.5 Z" fill="none" stroke="#3a3a3a" stroke-width="0.9"/>
<path d="M461.8 568.4 C461.7 568.4 461.6 568.3 461.5 568.2 C461.5 568.2 461.4 568.1 461.3 568.1 C461.3 568 461.2 567.9 461.1 567.8 C461.1 567.7 461 567.6 461 567.5 C461 567.4 460.9 567.3 460.9 567.2 C460.9 567.1 460.9 567 460.9 566.8 C460.9 566.7 460.9 566.6 460.9 566.4 C460.9 566.3 460.9 566.2 460.9 566 C461 565.9 461 565.8 461.1 565.6 C461.1 565.5 461.1 565.3 461.2 565.2 C461.3 565 461.3 564.9 461.4 564.8 C461.5 564.6 461.5 564.5 461.6 564.4 C461.7 564.2 461.8 564.1 461.9 564 C462 563.9 462.1 563.7 462.2 563.6 C462.2 563.5 462.4 563.4 462.5 563.3 C462.6 563.2 462.7 563.1 462.8 563 C462.9 563 463 562.9 463.1 562.8 C463.2 562.8 463.3 562.7 463.5 562.7 C463.6 562.6 463.7 562.6 463.8 562.5 C463.9 562.5 464 562.5 464.1 562.5 C464.2 562.5 464.3 562.5 464.4 562.5 C464.5 562.5 464.6 562.5 464.7 562.6 C464.8 562.6 464.9 562.6 464.9 562.7 C465 562.7 465.1 562.8 465.2 562.9" fill="none" stroke="#3a3a3a" stroke-width="0.9"/>
<ellipse cx="464.5" cy="566.2" rx="1.6" ry="1" transform="rotate(-60 464.5 566.2)" fill="none" stroke="#3a3a3a" stroke-width="0.8"/>
<ellipse cx="471.4" cy="569.3" rx="3.2" ry="1.9" transform="rotate(-60 471.4 569.3)" fill="none" stroke="#3a3a3a" stroke-width="0.8"/>
<path d="M469.3 571.7 C469.2 571.7 469.1 571.7 469 571.6 C468.9 571.6 468.9 571.5 468.8 571.4 C468.7 571.4 468.7 571.3 468.6 571.2 C468.6 571.1 468.5 571 468.5 570.9 C468.5 570.8 468.5 570.7 468.4 570.6 C468.4 570.4 468.4 570.3 468.4 570.2 C468.4 570.1 468.4 569.9 468.4 569.8 C468.4 569.7 468.4 569.5 468.5 569.4 C468.5 569.3 468.5 569.1 468.6 569 C468.6 568.8 468.7 568.7 468.7 568.6 C468.8 568.4 468.9 568.3 468.9 568.1 C469 568 469.1 567.9 469.2 567.7 C469.2 567.6 469.3 567.5 469.4 567.4 C469.5 567.2 469.6 567.1 469.7 567 C469.8 566.9 469.9 566.8 470 566.7 C470.1 566.6 470.2 566.5 470.3 566.5 C470.5 566.4 470.6 566.3 470.7 566.3 C470.8 566.2 470.9 566.1 471 566.1 C471.1 566.1 471.2 566 471.3 566 C471.4 566 471.5 566 471.6 566 C471.8 566 471.8 566 471.9 566 C472 566 472.1 566 472.2 566.1 C472.3 566.1 472.4 566.2 472.4 566.2" fill="none" stroke="#3a3a3a" stroke-width="0.8"/>
<ellipse cx="471.4" cy="569.3" rx="1.4" ry="0.9" transform="rotate(-60 471.4 569.3)" fill="none" stroke="#3a3a3a" stroke-width="0.8"/>
<path d="M490.9 576.4 L476.8 570.9" fill="none" stroke="#3a3a3a" stroke-width="0.8"/>
<path d="M490.1 578.6 L476 573.1" fill="none" stroke="#3a3a3a" stroke-width="0.8"/>
<path d="M476.8 570.9 C476.7 570.9 476 570.9 475.8 571.1 C475.5 571.3 475.3 571.9 475.3 572.2 C475.4 572.6 475.9 573 476 573.1" fill="none" stroke="#3a3a3a" stroke-width="0.8"/>
<path d="M477.1 571.1 L477 573.4" fill="none" stroke="#555" stroke-width="0.7"/>
<path d="M478.5 571.6 L478.4 574" fill="none" stroke="#555" stroke-width="0.7"/>
<g>
<ellipse cx="490.5" cy="577.5" rx="0.1" ry="0.1" transform="rotate(-68.7 490.5 577.5)" fill="#fff" stroke="#3a3a3a" stroke-width="0.8"/>
<ellipse cx="490.5" cy="577.5" rx="0.1" ry="0.1" transform="rotate(-68.7 490.5 577.5)" fill="#fff" stroke="#3a3a3a" stroke-width="0.8"/>
</g>
<path d="M490.5 577.4 L490.5 577.4" fill="none" stroke="#3a3a3a" stroke-width="0.8"/>
<path d="M490.5 577.6 L490.5 577.6" fill="none" stroke="#3a3a3a" stroke-width="0.8"/>
<path d="M338.5 265.5 L346 270" fill="none" stroke="#777" stroke-width="0.6" stroke-dasharray="5 1.5 1 1.5"/>
<path d="M352.7 266.5 L352 266.2 L351.2 266.1 L350.4 266.1 L349.5 266.3 L348.5 266.6 L347.6 267.2 L346.7 267.8 L345.8 268.6 L345 269.5 L344.2 270.5 L343.5 271.6 L342.9 272.7 L342.4 273.9 L342.1 275.1 L341.8 276.2 L341.7 277.4 L341.7 278.4 L341.9 279.4 L342.2 280.3 L342.6 281 L343.1 281.6 L343.7 282.1 L354.5 287.4 L355.2 287.7 L356 287.8 L356.8 287.8 L357.7 287.6 L358.7 287.3 L359.6 286.7 L360.5 286.1 L361.4 285.3 L362.2 284.4 L363 283.4 L363.7 282.3 L364.3 281.2 L364.8 280 L365.1 278.8 L365.4 277.7 L365.5 276.5 L365.5 275.5 L365.3 274.5 L365 273.6 L364.6 272.9 L364.1 272.3 L363.5 271.8 Z" fill="#fff" stroke="none"/>
<path d="M343.7 282.1 C343.6 282 343.3 281.8 343.1 281.6 C342.9 281.5 342.7 281.2 342.6 281 C342.4 280.8 342.3 280.5 342.2 280.3 C342.1 280 342 279.7 341.9 279.4 C341.8 279.1 341.8 278.8 341.7 278.4 C341.7 278.1 341.7 277.7 341.7 277.4 C341.7 277 341.8 276.6 341.8 276.2 C341.9 275.9 342 275.5 342.1 275.1 C342.2 274.7 342.3 274.3 342.4 273.9 C342.6 273.5 342.8 273.1 342.9 272.7 C343.1 272.4 343.3 272 343.5 271.6 C343.7 271.2 344 270.9 344.2 270.5 C344.5 270.2 344.7 269.8 345 269.5 C345.2 269.2 345.5 268.9 345.8 268.6 C346.1 268.3 346.4 268.1 346.7 267.8 C347 267.6 347.3 267.4 347.6 267.2 C347.9 267 348.2 266.8 348.5 266.6 C348.8 266.5 349.2 266.4 349.5 266.3 C349.8 266.2 350.1 266.1 350.4 266.1 C350.6 266.1 350.9 266 351.2 266.1 C351.5 266.1 351.7 266.1 352 266.2 C352.2 266.3 352.6 266.5 352.7 266.5" fill="none" stroke="#3a3a3a" stroke-width="0.9"/>
<path d="M352.7 266.5 L363.5 271.8" fill="none" stroke="#3a3a3a" stroke-width="0.9"/>
<path d="M343.7 282.1 L354.5 287.4" fill="none" stroke="#3a3a3a" stroke-width="0.9"/>
<path d="M364.5 268.1 L363.5 267.7 L362.4 267.5 L361.2 267.5 L360 267.8 L358.7 268.3 L357.4 269 L356.1 269.9 L354.9 271 L353.7 272.3 L352.6 273.7 L351.7 275.2 L350.8 276.8 L350.1 278.4 L349.6 280.1 L349.3 281.7 L349.1 283.3 L349.2 284.8 L349.4 286.1 L349.7 287.4 L350.3 288.4 L351 289.3 L351.9 289.9 L360.1 294.1 L361.1 294.5 L362.2 294.7 L363.4 294.7 L364.6 294.4 L365.9 293.9 L367.2 293.2 L368.5 292.3 L369.7 291.2 L370.9 289.9 L372 288.5 L372.9 287 L373.8 285.4 L374.5 283.8 L375 282.1 L375.3 280.5 L375.5 278.9 L375.4 277.4 L375.2 276.1 L374.9 274.8 L374.3 273.8 L373.6 272.9 L372.7 272.3 Z" fill="#fff" stroke="none"/>
<path d="M351.9 289.9 C351.8 289.8 351.3 289.5 351 289.3 C350.8 289 350.5 288.7 350.3 288.4 C350.1 288.1 349.9 287.7 349.7 287.4 C349.6 287 349.5 286.6 349.4 286.1 C349.3 285.7 349.2 285.2 349.2 284.8 C349.1 284.3 349.1 283.8 349.1 283.3 C349.1 282.8 349.2 282.3 349.3 281.7 C349.4 281.2 349.5 280.6 349.6 280.1 C349.8 279.5 349.9 279 350.1 278.4 C350.3 277.9 350.6 277.3 350.8 276.8 C351.1 276.3 351.4 275.7 351.7 275.2 C352 274.7 352.3 274.2 352.6 273.7 C353 273.2 353.3 272.7 353.7 272.3 C354.1 271.9 354.5 271.4 354.9 271 C355.3 270.6 355.7 270.3 356.1 269.9 C356.5 269.6 356.9 269.3 357.4 269 C357.8 268.7 358.2 268.5 358.7 268.3 C359.1 268.1 359.5 267.9 360 267.8 C360.4 267.6 360.8 267.6 361.2 267.5 C361.6 267.5 362 267.4 362.4 267.5 C362.8 267.5 363.2 267.6 363.5 267.7 C363.9 267.8 364.3 268 364.5 268.1" fill="none" stroke="#3a3a3a" stroke-width="0.9"/>
<path d="M364.5 268.1 L372.7 272.3" fill="none" stroke="#3a3a3a" stroke-width="0.9"/>
<path d="M351.9 289.9 L360.1 294.1" fill="none" stroke="#3a3a3a" stroke-width="0.9"/>
<ellipse cx="366.4" cy="283.2" rx="12.6" ry="7.6" transform="rotate(-60 366.4 283.2)" fill="none" stroke="#3a3a3a" stroke-width="0.9"/>
<ellipse cx="366.4" cy="283.2" rx="10.2" ry="6" transform="rotate(-60 366.4 283.2)" fill="none" stroke="#3a3a3a" stroke-width="1.1"/>
<ellipse cx="366.6" cy="283.3" rx="8.2" ry="4.8" transform="rotate(-60 366.6 283.3)" fill="none" stroke="#666" stroke-width="0.7"/>
<ellipse cx="366.9" cy="283.5" rx="5.6" ry="3.3" transform="rotate(-60 366.9 283.5)" fill="none" stroke="#444" stroke-width="0.9"/>
<path d="M366 287.5 C365.9 287.5 365.7 287.5 365.6 287.5 C365.5 287.5 365.4 287.5 365.2 287.4 C365.1 287.4 365 287.3 364.9 287.2 C364.8 287.2 364.8 287.1 364.7 287 C364.6 286.9 364.5 286.8 364.5 286.7 C364.4 286.5 364.4 286.4 364.3 286.3 C364.3 286.1 364.2 286 364.2 285.9 C364.2 285.7 364.2 285.5 364.2 285.4 C364.2 285.2 364.2 285 364.2 284.9 C364.2 284.7 364.3 284.5 364.3 284.3 C364.3 284.2 364.4 284 364.4 283.8 C364.5 283.6 364.6 283.4 364.6 283.2 C364.7 283.1 364.8 282.9 364.9 282.7 C365 282.5 365.1 282.4 365.2 282.2 C365.3 282 365.4 281.9 365.5 281.7 C365.6 281.6 365.8 281.4 365.9 281.3 C366 281.1 366.2 281 366.3 280.9 C366.4 280.7 366.6 280.6 366.7 280.5 C366.9 280.4 367 280.3 367.1 280.2 C367.3 280.2 367.4 280.1 367.6 280 C367.7 280 367.9 279.9 368 279.9 C368.1 279.9 368.3 279.9 368.4 279.9 C368.5 279.9 368.7 279.9 368.8 279.9 C368.9 279.9 369 279.9 369.1 280 C369.2 280 369.3 280.1 369.4 280.2 C369.5 280.2 369.6 280.3 369.7 280.4 C369.8 280.5 369.9 280.7 369.9 280.7" fill="none" stroke="#777" stroke-width="0.7"/>
<g>
<path d="M400 282.7 C401.7 282.6 404.7 282.8 406.9 283.1 C409 283.5 411.3 284.1 412.9 284.9 C414.4 285.6 415.8 286.6 416.3 287.9 C416.8 289.1 416.4 290.6 415.9 292.1 C415.3 293.7 414.2 295.3 412.9 297.3 C411.5 299.3 409.4 302 407.7 304.1 C406 306.3 404.4 308.3 402.6 310.1 C400.7 312 398.7 314 396.6 315.3 C394.4 316.6 392 317.5 389.7 317.9 C387.4 318.2 384.9 317.9 382.9 317.4 C380.9 317 378.9 316.4 377.7 315.3 C376.6 314.2 376 312.6 376 311 C376 309.4 376.7 307.7 377.7 305.9 C378.7 304 380.4 302 382 299.9 C383.6 297.7 385.4 295.1 387.1 293 C388.9 290.9 390.7 288.6 392.3 287 C393.9 285.4 395.3 284.3 396.6 283.6 C397.9 282.9 398.3 282.8 400 282.7 Z" fill="#fff" stroke="#3a3a3a" stroke-width="1"/>
</g>
<path d="M416.7 289.6 C416.4 290.7 415.9 293.9 414.6 296.4 C413.3 298.9 410.9 302.1 409 304.6 C407.1 307 405.4 309 403.4 311 C401.4 313 399.2 315 397 316.3 C394.8 317.6 392.5 318.5 390.1 318.9 C387.8 319.2 384.1 318.5 382.9 318.5" fill="none" stroke="#777" stroke-width="0.6"/>
<ellipse cx="393.7" cy="299.3" rx="10" ry="5.9" transform="rotate(-60 393.7 299.3)" fill="none" stroke="#3a3a3a" stroke-width="1"/>
<path d="M404.5 294 C404.6 294.2 404.7 294.8 404.8 295.2 C404.8 295.7 404.9 296.1 404.9 296.6 C404.9 297.1 404.8 297.5 404.8 298 C404.7 298.5 404.6 299 404.5 299.5 C404.4 300 404.3 300.6 404.1 301.1 C403.9 301.6 403.7 302.1 403.5 302.6 C403.3 303.1 403.1 303.6 402.8 304.1 C402.5 304.6 402.3 305.1 402 305.6 C401.7 306 401.3 306.5 401 306.9 C400.7 307.4 400.3 307.8 399.9 308.2 C399.6 308.6 399.2 309 398.8 309.3 C398.4 309.7 398 310 397.6 310.3 C397.2 310.6 396.8 310.8 396.4 311.1 C396 311.3 395.6 311.5 395.2 311.6 C394.8 311.8 394.4 311.9 394 312 C393.6 312.1 393.2 312.2 392.9 312.2 C392.5 312.2 392.1 312.2 391.8 312.1 C391.4 312.1 391.1 312 390.8 311.9 C390.5 311.8 390.2 311.6 389.9 311.4 C389.6 311.2 389.4 311 389.1 310.7 C388.9 310.5 388.7 310.2 388.5 309.9 C388.3 309.5 388.2 309.2 388 308.8 C387.9 308.5 387.8 307.8 387.7 307.6" fill="none" stroke="#777" stroke-width="0.6" stroke-dasharray="4 1.2 1 1.2"/>
<path d="M398.8 304.4 C398.6 304.6 398.2 305.2 397.9 305.5 C397.6 305.9 397.2 306.2 396.9 306.5 C396.6 306.8 396.3 307.1 395.9 307.4 C395.6 307.6 395.2 307.9 394.9 308.1 C394.5 308.3 394.2 308.5 393.8 308.6 C393.5 308.8 393.2 308.9 392.8 309 C392.5 309.1 392.2 309.1 391.8 309.1 C391.5 309.2 391.2 309.1 390.9 309.1 C390.6 309.1 390.3 309 390.1 308.9 C389.8 308.8 389.5 308.6 389.3 308.5 C389.1 308.3 388.9 308.1 388.7 307.9 C388.5 307.7 388.3 307.4 388.2 307.1 C388 306.9 387.9 306.5 387.8 306.2 C387.7 305.9 387.6 305.5 387.5 305.2 C387.5 304.8 387.5 304.4 387.5 304 C387.4 303.6 387.5 303.2 387.5 302.8 C387.6 302.4 387.6 301.9 387.7 301.5 C387.8 301.1 388 300.4 388.1 300.2" fill="none" stroke="#777" stroke-width="0.6"/>
<ellipse cx="409.4" cy="293" rx="3" ry="1.7" transform="rotate(-60 409.4 293)" fill="none" stroke="#3a3a3a" stroke-width="0.9"/>
<ellipse cx="383.3" cy="308.4" rx="3" ry="1.7" transform="rotate(-60 383.3 308.4)" fill="none" stroke="#3a3a3a" stroke-width="0.9"/>
<path d="M433 300 C435.3 299.8 438 300.5 440 301 C442 301.5 443.9 302.1 445 303 C446.1 303.9 446.7 305.2 446.8 306.5 C446.9 307.8 446.3 309.2 445.5 311 C444.7 312.8 443.4 314.8 442 317 C440.6 319.2 438.8 321.8 437 324 C435.2 326.2 433.2 328.2 431 330 C428.8 331.8 426.3 333.5 424 334.5 C421.7 335.5 419.2 335.9 417 336 C414.8 336.1 412.7 335.7 411 335 C409.3 334.3 407.8 333.3 407 332 C406.2 330.7 406.1 328.8 406.5 327 C406.9 325.2 408.2 323.1 409.5 321 C410.8 318.9 412.2 316.8 414 314.5 C415.8 312.2 418 309.1 420 307 C422 304.9 423.8 303.2 426 302 C428.2 300.8 430.7 300.2 433 300 Z" fill="#fff" stroke="#3a3a3a" stroke-width="1"/>
<path d="M431.8 301.2 C430.9 301.6 428.1 302.2 426.2 303.4 C424.3 304.6 422.4 306.3 420.5 308.3 C418.6 310.3 416.5 313.2 414.8 315.5 C413.1 317.8 411.6 319.9 410.4 321.8 C409.2 323.8 408.2 325.6 407.8 327.2 C407.4 328.8 408.1 330.9 408.2 331.6" fill="none" stroke="#777" stroke-width="0.6"/>
<ellipse cx="429.3" cy="318.2" rx="13.2" ry="8" transform="rotate(-60 429.3 318.2)" fill="none" stroke="#555" stroke-width="0.8"/>
<ellipse cx="429" cy="318.8" rx="9.8" ry="5.7" transform="rotate(-60 429 318.8)" fill="none" stroke="#333" stroke-width="1.1"/>
<ellipse cx="429.6" cy="319.2" rx="8.3" ry="4.7" transform="rotate(-60 429.6 319.2)" fill="none" stroke="#666" stroke-width="0.7"/>
<ellipse cx="440" cy="310" rx="2.6" ry="1.6" transform="rotate(-60 440 310)" fill="none" stroke="#3a3a3a" stroke-width="0.9"/>
<ellipse cx="413" cy="326" rx="2.6" ry="1.6" transform="rotate(-60 413 326)" fill="none" stroke="#3a3a3a" stroke-width="0.9"/>
<path d="M434.5 306.5 C434.9 306.7 436.4 307.2 437.2 307.8 C438 308.4 438.9 309.6 439.2 310" fill="none" stroke="#666" stroke-width="0.7"/>
<path d="M451.6 323.8 L451 323.5 L450.2 323.4 L449.5 323.4 L448.6 323.6 L447.8 323.9 L447 324.4 L446.1 325 L445.3 325.7 L444.6 326.5 L443.9 327.5 L443.2 328.4 L442.7 329.5 L442.3 330.5 L441.9 331.6 L441.7 332.7 L441.6 333.7 L441.6 334.7 L441.7 335.5 L442 336.3 L442.4 337 L442.8 337.6 L443.4 338 L451.9 341.6 L452.5 341.9 L453.3 342 L454 342 L454.9 341.8 L455.7 341.5 L456.5 341 L457.4 340.4 L458.2 339.7 L458.9 338.9 L459.6 337.9 L460.3 337 L460.8 335.9 L461.2 334.9 L461.6 333.8 L461.8 332.7 L461.9 331.7 L461.9 330.7 L461.8 329.9 L461.5 329.1 L461.1 328.4 L460.7 327.8 L460.1 327.4 Z" fill="#fff" stroke="none"/>
<path d="M443.4 338 C443.3 337.9 443 337.7 442.8 337.6 C442.7 337.4 442.5 337.2 442.4 337 C442.2 336.8 442.1 336.6 442 336.3 C441.9 336.1 441.8 335.8 441.7 335.5 C441.7 335.3 441.6 335 441.6 334.7 C441.6 334.3 441.6 334 441.6 333.7 C441.6 333.4 441.6 333 441.7 332.7 C441.8 332.3 441.8 332 441.9 331.6 C442 331.3 442.1 330.9 442.3 330.5 C442.4 330.2 442.5 329.8 442.7 329.5 C442.9 329.1 443 328.8 443.2 328.4 C443.4 328.1 443.6 327.8 443.9 327.5 C444.1 327.1 444.3 326.8 444.6 326.5 C444.8 326.2 445.1 326 445.3 325.7 C445.6 325.5 445.9 325.2 446.1 325 C446.4 324.8 446.7 324.6 447 324.4 C447.2 324.2 447.5 324.1 447.8 323.9 C448.1 323.8 448.4 323.7 448.6 323.6 C448.9 323.5 449.2 323.5 449.5 323.4 C449.7 323.4 450 323.4 450.2 323.4 C450.5 323.4 450.7 323.5 451 323.5 C451.2 323.6 451.5 323.8 451.6 323.8" fill="none" stroke="#3a3a3a" stroke-width="0.9"/>
<path d="M451.6 323.8 L460.1 327.4" fill="none" stroke="#3a3a3a" stroke-width="0.9"/>
<path d="M443.4 338 L451.9 341.6" fill="none" stroke="#3a3a3a" stroke-width="0.9"/>
<ellipse cx="456" cy="334.5" rx="8.2" ry="4.9" transform="rotate(-60 456 334.5)" fill="none" stroke="#3a3a3a" stroke-width="0.9"/>
<path d="M453 333 C453.2 333.4 453.9 334.8 454.5 335.5 C455.1 336.2 456.2 336.8 456.5 337" fill="none" stroke="#444" stroke-width="1.1"/>
<path d="M455.5 331.5 C455.8 331.8 457.1 332.3 457.5 333 C457.9 333.7 457.9 335.1 458 335.5" fill="none" stroke="#666" stroke-width="0.8"/>
<path d="M278.4 397.8 C278.1 397.6 277 397.1 276.4 396.7 C275.8 396.2 275.2 395.6 274.7 395 C274.1 394.4 273.7 393.6 273.3 392.9 C272.9 392.1 272.6 391.2 272.3 390.3 C272 389.4 271.9 388.4 271.7 387.3 C271.6 386.3 271.5 385.2 271.5 384.1 C271.5 382.9 271.6 381.8 271.8 380.6 C271.9 379.3 272.1 378.1 272.4 376.8 C272.7 375.6 273 374.3 273.4 373 C273.8 371.7 274.3 370.4 274.8 369.1 C275.3 367.9 275.9 366.6 276.6 365.3 C277.2 364.1 277.9 362.8 278.6 361.6 C279.3 360.4 280.1 359.2 280.9 358.1 C281.8 356.9 282.6 355.8 283.5 354.8 C284.4 353.7 285.3 352.7 286.2 351.8 C287.2 350.8 288.1 350 289.1 349.2 C290 348.4 291 347.6 292 347 C293 346.3 294 345.8 294.9 345.3 C295.9 344.8 296.9 344.4 297.8 344.1 C298.8 343.7 299.7 343.5 300.6 343.4 C301.5 343.2 302.4 343.2 303.3 343.2 C304.1 343.2 304.9 343.4 305.7 343.6 C306.4 343.8 307.2 344.1 307.9 344.5 C308.5 344.9 309.4 345.7 309.7 345.9" fill="none" stroke="#3a3a3a" stroke-width="0.9"/>
<path d="M309.7 345.9 L321.9 351" fill="none" stroke="#3a3a3a" stroke-width="0.9"/>
<path d="M278.4 397.8 L289.7 403.2" fill="none" stroke="#3a3a3a" stroke-width="0.9"/>
<ellipse cx="304.1" cy="375.9" rx="30.9" ry="17" transform="rotate(-60 304.1 375.9)" fill="#fff" stroke="#3a3a3a" stroke-width="0.9"/>
<path d="M278 395.7 C277.7 395.4 276.8 394.7 276.4 394.1 C275.9 393.4 275.5 392.7 275.1 391.9 C274.7 391.2 274.4 390.3 274.2 389.4 C274 388.5 273.8 387.5 273.7 386.5 C273.6 385.5 273.6 384.4 273.6 383.3 C273.6 382.2 273.7 381.1 273.9 379.9 C274.1 378.7 274.3 377.5 274.6 376.3 C274.9 375.1 275.2 373.9 275.7 372.6 C276.1 371.4 276.6 370.1 277.1 368.9 C277.6 367.7 278.2 366.4 278.8 365.2 C279.5 364 280.2 362.8 280.9 361.7 C281.6 360.5 282.4 359.4 283.2 358.3 C284 357.3 284.8 356.2 285.7 355.3 C286.6 354.3 287.5 353.3 288.4 352.5 C289.3 351.6 290.2 350.8 291.1 350.1 C292.1 349.4 293 348.7 294 348.1 C294.9 347.5 295.8 347 296.8 346.6 C297.7 346.2 298.6 345.9 299.5 345.6 C300.4 345.4 301.3 345.2 302.1 345.1 C303 345 303.8 345 304.6 345.1 C305.4 345.2 306.5 345.6 306.8 345.7" fill="none" stroke="#888" stroke-width="0.6" stroke-dasharray="4 1.3"/>
<path d="M298.8 402 C298.4 402.1 297 402.5 296.2 402.6 C295.3 402.7 294.5 402.7 293.7 402.6 C292.9 402.6 292.2 402.4 291.5 402.2 C290.8 401.9 290.1 401.6 289.5 401.2 C288.9 400.8 288.3 400.3 287.8 399.7 C287.3 399.1 286.8 398.5 286.4 397.7 C286.1 397 285.7 396.2 285.4 395.4 C285.2 394.5 285 393.6 284.8 392.6 C284.7 391.7 284.6 390.6 284.6 389.6 C284.6 388.5 284.6 387.4 284.8 386.2 C284.9 385.1 285.1 383.9 285.3 382.7 C285.5 381.5 285.9 380.3 286.2 379 C286.6 377.8 287 376.6 287.5 375.3 C288 374.1 288.6 372.8 289.2 371.6 C289.7 370.4 290.4 369.2 291.1 368 C291.8 366.8 292.5 365.7 293.3 364.6 C294.1 363.5 294.9 362.4 295.7 361.4 C296.5 360.3 297.4 359.3 298.3 358.4 C299.2 357.5 300.1 356.6 301 355.9 C301.9 355.1 302.9 354.3 303.8 353.7 C304.7 353 305.7 352.4 306.6 351.9 C307.5 351.5 308.5 351 309.4 350.7 C310.3 350.4 311.6 350.1 312 349.9" fill="none" stroke="#444" stroke-width="1"/>
<path d="M309.1 354.3 C309.5 354.2 310.7 353.9 311.4 353.8 C312.1 353.7 312.8 353.7 313.5 353.8 C314.1 353.9 314.8 354 315.4 354.2 C316 354.5 316.6 354.8 317.1 355.1 C317.6 355.5 318.1 355.9 318.5 356.4 C318.9 356.9 319.3 357.5 319.6 358.1 C320 358.7 320.2 359.4 320.5 360.2 C320.7 360.9 320.8 361.7 321 362.5 C321.1 363.4 321.1 364.3 321.1 365.2 C321.1 366.1 321 367.1 320.9 368.1 C320.8 369 320.6 370.1 320.4 371.1 C320.2 372.1 319.9 373.2 319.6 374.2 C319.2 375.3 318.8 376.3 318.4 377.4 C318 378.4 317.5 379.5 317 380.5 C316.4 381.6 315.9 382.6 315.3 383.6 C314.7 384.6 314 385.5 313.4 386.5 C312.7 387.4 312 388.3 311.2 389.1 C310.5 390 309.8 390.8 309 391.6 C308.2 392.3 307.4 393 306.7 393.7 C305.9 394.3 305.1 394.9 304.3 395.4 C303.5 395.9 302.7 396.4 301.9 396.7 C301.1 397.1 300.3 397.4 299.5 397.7 C298.8 397.9 298 398.1 297.3 398.2 C296.6 398.2 295.9 398.3 295.2 398.2 C294.5 398.1 293.9 398 293.3 397.8 C292.7 397.6 292.1 397.3 291.6 396.9 C291.1 396.6 290.6 396.1 290.2 395.7 C289.7 395.2 289.3 394.6 289 394 C288.7 393.4 288.4 392.7 288.2 391.9 C287.9 391.2 287.7 390 287.7 389.6" fill="none" stroke="#888" stroke-width="0.6" stroke-dasharray="3 1.3"/>
<path d="M282 398.2 C281.7 397.8 280.9 396.9 280.5 396.1 C280.1 395.4 279.7 394.5 279.4 393.7 C279.1 392.8 278.9 391.8 278.7 390.8 C278.6 389.8 278.5 388.7 278.4 387.6 C278.4 386.5 278.4 385.3 278.6 384.1 C278.7 383 278.8 381.7 279.1 380.5 C279.3 379.2 279.6 377.9 280 376.7 C280.4 375.4 280.8 374.1 281.3 372.8 C281.8 371.5 282.4 370.2 283 369 C283.6 367.7 284.2 366.4 285 365.2 C285.7 364 286.4 362.8 287.2 361.6 C288 360.4 288.9 359.3 289.7 358.2 C290.6 357.2 291.5 356.1 292.4 355.2 C293.3 354.2 294.3 353.3 295.2 352.5 C296.2 351.6 297.2 350.9 298.2 350.2 C299.1 349.5 300.1 348.9 301.1 348.4 C302.1 347.8 303.1 347.4 304 347 C305 346.6 305.9 346.4 306.8 346.2 C307.7 346 308.6 345.9 309.5 345.9 C310.4 345.9 311.6 346.1 312 346.1" fill="none" stroke="#999" stroke-width="0.6" stroke-dasharray="6 1.5 1 1.5"/>
<ellipse cx="302.6" cy="374.8" rx="11.8" ry="7.2" transform="rotate(-60 302.6 374.8)" fill="none" stroke="#555" stroke-width="0.8"/>
<path d="M307.7 365.3 C307.9 365.4 308.4 365.4 308.8 365.4 C309.1 365.5 309.4 365.6 309.7 365.7 C310 365.9 310.3 366 310.5 366.2 C310.8 366.4 311 366.7 311.3 366.9 C311.5 367.2 311.7 367.5 311.8 367.8 C312 368.1 312.2 368.5 312.3 368.8 C312.4 369.2 312.5 369.6 312.5 370 C312.6 370.4 312.6 370.8 312.7 371.3 C312.7 371.7 312.6 372.2 312.6 372.7 C312.5 373.1 312.5 373.6 312.4 374.1 C312.3 374.6 312.1 375.1 312 375.6 C311.8 376.1 311.7 376.6 311.4 377.1 C311.2 377.6 311 378.1 310.8 378.5 C310.5 379 310.2 379.5 310 379.9 C309.7 380.4 309.4 380.8 309 381.3 C308.7 381.7 308.4 382.1 308 382.5 C307.7 382.9 307.3 383.2 306.9 383.5 C306.6 383.9 306.2 384.2 305.8 384.5 C305.4 384.7 305 385 304.6 385.2 C304.2 385.4 303.8 385.6 303.4 385.8 C303.1 385.9 302.7 386 302.3 386.1 C301.9 386.2 301.5 386.2 301.2 386.3 C300.8 386.3 300.5 386.2 300.1 386.2 C299.8 386.1 299.5 386 299.2 385.9 C298.9 385.8 298.6 385.6 298.3 385.4 C298.1 385.2 297.8 385 297.6 384.8 C297.4 384.5 297.1 384 297 383.9" fill="none" stroke="#555" stroke-width="0.8"/>
<ellipse cx="301.8" cy="374.9" rx="8.6" ry="4.7" transform="rotate(-60 301.8 374.9)" fill="none" stroke="#333" stroke-width="1.1"/>
<path d="M299.6 381.8 C299.5 381.7 299.3 381.7 299.1 381.6 C299 381.5 298.8 381.4 298.7 381.3 C298.5 381.2 298.4 381 298.3 380.9 C298.2 380.7 298.1 380.6 298 380.4 C298 380.2 297.9 380 297.8 379.8 C297.8 379.5 297.8 379.3 297.7 379 C297.7 378.8 297.7 378.5 297.7 378.3 C297.7 378 297.8 377.7 297.8 377.4 C297.9 377.1 297.9 376.8 298 376.5 C298.1 376.3 298.2 375.9 298.3 375.6 C298.4 375.3 298.5 375 298.6 374.7 C298.8 374.4 298.9 374.1 299.1 373.8 C299.2 373.5 299.4 373.3 299.6 373 C299.7 372.7 299.9 372.4 300.1 372.1 C300.3 371.9 300.5 371.6 300.7 371.4 C300.9 371.1 301.2 370.9 301.4 370.7 C301.6 370.5 301.8 370.3 302.1 370.1 C302.3 369.9 302.5 369.7 302.7 369.6 C303 369.5 303.2 369.3 303.4 369.2 C303.6 369.1 303.9 369 304.1 369 C304.3 368.9 304.5 368.8 304.7 368.8 C304.9 368.8 305.1 368.8 305.3 368.8 C305.5 368.8 305.7 368.8 305.8 368.9 C306 369 306.2 369 306.3 369.1 C306.5 369.2 306.6 369.4 306.7 369.5" fill="none" stroke="#666" stroke-width="0.7"/>
<ellipse cx="312.2" cy="357.5" rx="1.7" ry="1.1" transform="rotate(-60 312.2 357.5)" fill="none" stroke="#444" stroke-width="0.8"/>
<ellipse cx="300.9" cy="361.3" rx="1.7" ry="1.1" transform="rotate(-60 300.9 361.3)" fill="none" stroke="#444" stroke-width="0.8"/>
<ellipse cx="289.7" cy="381.1" rx="1.7" ry="1.1" transform="rotate(-60 289.7 381.1)" fill="none" stroke="#444" stroke-width="0.8"/>
<ellipse cx="300.4" cy="390.7" rx="1.7" ry="1.1" transform="rotate(-60 300.4 390.7)" fill="none" stroke="#444" stroke-width="0.8"/>
<path d="M258.7 338 L257.8 337.6 L256.8 337.4 L255.8 337.4 L254.7 337.7 L253.6 338.1 L252.4 338.7 L251.3 339.5 L250.2 340.5 L249.2 341.6 L248.2 342.8 L247.4 344.1 L246.7 345.5 L246.1 347 L245.6 348.4 L245.3 349.8 L245.2 351.2 L245.2 352.5 L245.4 353.7 L245.8 354.8 L246.3 355.7 L246.9 356.5 L247.7 357 L252.4 359.1 L253.3 359.5 L254.3 359.7 L255.3 359.7 L256.4 359.4 L257.5 359 L258.7 358.4 L259.8 357.6 L260.9 356.6 L261.9 355.5 L262.9 354.3 L263.7 353 L264.4 351.6 L265 350.1 L265.5 348.7 L265.8 347.3 L265.9 345.9 L265.9 344.6 L265.7 343.4 L265.3 342.3 L264.8 341.4 L264.2 340.6 L263.4 340.1 Z" fill="#fff" stroke="none"/>
<path d="M247.7 357 C247.6 356.9 247.2 356.7 246.9 356.5 C246.7 356.2 246.5 356 246.3 355.7 C246.1 355.4 245.9 355.1 245.8 354.8 C245.6 354.4 245.5 354.1 245.4 353.7 C245.3 353.3 245.3 352.9 245.2 352.5 C245.2 352.1 245.2 351.6 245.2 351.2 C245.2 350.8 245.3 350.3 245.3 349.8 C245.4 349.4 245.5 348.9 245.6 348.4 C245.8 347.9 245.9 347.4 246.1 347 C246.2 346.5 246.4 346 246.7 345.5 C246.9 345.1 247.1 344.6 247.4 344.1 C247.6 343.7 247.9 343.2 248.2 342.8 C248.5 342.4 248.8 342 249.2 341.6 C249.5 341.2 249.8 340.8 250.2 340.5 C250.6 340.1 250.9 339.8 251.3 339.5 C251.7 339.2 252 339 252.4 338.7 C252.8 338.5 253.2 338.3 253.6 338.1 C253.9 337.9 254.3 337.8 254.7 337.7 C255.1 337.6 255.4 337.5 255.8 337.4 C256.1 337.4 256.5 337.4 256.8 337.4 C257.2 337.4 257.5 337.5 257.8 337.6 C258.1 337.7 258.6 337.9 258.7 338" fill="none" stroke="#3a3a3a" stroke-width="0.9"/>
<path d="M258.7 338 L263.4 340.1" fill="none" stroke="#3a3a3a" stroke-width="0.9"/>
<path d="M247.7 357 L252.4 359.1" fill="none" stroke="#3a3a3a" stroke-width="0.9"/>
<ellipse cx="257.9" cy="349.6" rx="11" ry="6.7" transform="rotate(-60 257.9 349.6)" fill="none" stroke="#3a3a3a" stroke-width="0.9"/>
<ellipse cx="257.9" cy="349.6" rx="8.7" ry="5.2" transform="rotate(-60 257.9 349.6)" fill="none" stroke="#444" stroke-width="1.5"/>
<ellipse cx="258" cy="349.7" rx="5.6" ry="3.2" transform="rotate(-60 258 349.7)" fill="none" stroke="#555" stroke-width="0.8"/>
<ellipse cx="258" cy="349.7" rx="7.1" ry="4.2" transform="rotate(-60 258 349.7)" fill="none" stroke="#888" stroke-width="0.5" stroke-dasharray="1.2 1.2"/>
<path d="M330.3 386.1 L330 385.9 L329.5 385.8 L329 385.8 L328.5 385.9 L328 386.1 L327.5 386.4 L327 386.7 L326.5 387.2 L326.1 387.6 L325.6 388.2 L325.3 388.8 L324.9 389.4 L324.7 390 L324.5 390.7 L324.4 391.3 L324.3 391.9 L324.3 392.5 L324.4 393 L324.6 393.5 L324.8 393.9 L325.1 394.3 L325.4 394.5 L333.1 397.8 L333.4 398 L333.9 398.1 L334.4 398.1 L334.9 398 L335.4 397.8 L335.9 397.5 L336.4 397.2 L336.9 396.7 L337.3 396.3 L337.8 395.7 L338.1 395.1 L338.5 394.5 L338.7 393.9 L338.9 393.2 L339 392.6 L339.1 392 L339.1 391.4 L339 390.9 L338.8 390.4 L338.6 390 L338.3 389.6 L337.9 389.4 Z" fill="#fff" stroke="none"/>
<path d="M325.4 394.5 C325.4 394.5 325.2 394.4 325.1 394.3 C325 394.2 324.9 394.1 324.8 393.9 C324.7 393.8 324.6 393.7 324.6 393.5 C324.5 393.4 324.5 393.2 324.4 393 C324.4 392.9 324.3 392.7 324.3 392.5 C324.3 392.3 324.3 392.1 324.3 391.9 C324.3 391.7 324.3 391.5 324.4 391.3 C324.4 391.1 324.4 390.9 324.5 390.7 C324.5 390.5 324.6 390.3 324.7 390 C324.8 389.8 324.8 389.6 324.9 389.4 C325 389.2 325.2 389 325.3 388.8 C325.4 388.6 325.5 388.4 325.6 388.2 C325.8 388 325.9 387.8 326.1 387.6 C326.2 387.5 326.4 387.3 326.5 387.2 C326.7 387 326.8 386.9 327 386.7 C327.2 386.6 327.3 386.5 327.5 386.4 C327.7 386.3 327.9 386.2 328 386.1 C328.2 386 328.4 386 328.5 385.9 C328.7 385.9 328.9 385.8 329 385.8 C329.2 385.8 329.4 385.8 329.5 385.8 C329.7 385.8 329.8 385.8 330 385.9 C330.1 385.9 330.3 386 330.3 386.1" fill="none" stroke="#3a3a3a" stroke-width="0.9"/>
<path d="M330.3 386.1 L337.9 389.4" fill="none" stroke="#3a3a3a" stroke-width="0.9"/>
<path d="M325.4 394.5 L333.1 397.8" fill="none" stroke="#3a3a3a" stroke-width="0.9"/>
<path d="M339.7 388.9 L339.1 388.6 L338.4 388.5 L337.7 388.5 L336.9 388.7 L336.1 389 L335.3 389.4 L334.5 390 L333.8 390.6 L333.1 391.4 L332.4 392.2 L331.8 393.1 L331.3 394.1 L330.9 395.1 L330.6 396.1 L330.4 397.1 L330.3 398 L330.4 398.9 L330.5 399.8 L330.7 400.5 L331.1 401.2 L331.6 401.7 L332.1 402.1 L339.6 405.7 L340.2 406 L340.9 406.1 L341.6 406.1 L342.4 405.9 L343.2 405.6 L344 405.2 L344.8 404.6 L345.5 404 L346.2 403.2 L346.9 402.4 L347.5 401.5 L348 400.5 L348.4 399.5 L348.7 398.5 L348.9 397.5 L349 396.6 L348.9 395.7 L348.8 394.8 L348.6 394.1 L348.2 393.4 L347.7 392.9 L347.2 392.5 Z" fill="#fff" stroke="none"/>
<path d="M332.1 402.1 C332 402 331.7 401.8 331.6 401.7 C331.4 401.5 331.2 401.3 331.1 401.2 C331 401 330.8 400.7 330.7 400.5 C330.6 400.3 330.6 400 330.5 399.8 C330.4 399.5 330.4 399.2 330.4 398.9 C330.3 398.6 330.3 398.3 330.3 398 C330.3 397.7 330.4 397.4 330.4 397.1 C330.5 396.8 330.5 396.4 330.6 396.1 C330.7 395.8 330.8 395.4 330.9 395.1 C331 394.8 331.2 394.4 331.3 394.1 C331.5 393.8 331.6 393.5 331.8 393.1 C332 392.8 332.2 392.5 332.4 392.2 C332.6 391.9 332.8 391.7 333.1 391.4 C333.3 391.1 333.5 390.9 333.8 390.6 C334 390.4 334.3 390.2 334.5 390 C334.8 389.8 335 389.6 335.3 389.4 C335.6 389.2 335.8 389.1 336.1 389 C336.4 388.9 336.6 388.8 336.9 388.7 C337.2 388.6 337.4 388.6 337.7 388.5 C337.9 388.5 338.2 388.5 338.4 388.5 C338.6 388.5 338.9 388.6 339.1 388.6 C339.3 388.7 339.6 388.9 339.7 388.9" fill="none" stroke="#3a3a3a" stroke-width="0.9"/>
<path d="M339.7 388.9 L347.2 392.5" fill="none" stroke="#3a3a3a" stroke-width="0.9"/>
<path d="M332.1 402.1 L339.6 405.7" fill="none" stroke="#3a3a3a" stroke-width="0.9"/>
<ellipse cx="343.4" cy="399.1" rx="7.6" ry="4.7" transform="rotate(-60 343.4 399.1)" fill="none" stroke="#3a3a3a" stroke-width="0.9"/>
<path d="M342.6 404.4 C342.5 404.4 342.2 404.5 342 404.5 C341.8 404.5 341.7 404.5 341.5 404.5 C341.3 404.5 341.2 404.4 341 404.4 C340.8 404.3 340.7 404.2 340.6 404.1 C340.4 404 340.3 403.9 340.2 403.8 C340.1 403.7 340 403.5 339.9 403.4 C339.8 403.2 339.7 403 339.6 402.9 C339.6 402.7 339.5 402.5 339.5 402.3 C339.4 402.1 339.4 401.9 339.4 401.6 C339.4 401.4 339.4 401.2 339.4 400.9 C339.4 400.7 339.5 400.4 339.5 400.2 C339.6 399.9 339.6 399.7 339.7 399.4 C339.8 399.2 339.9 398.9 340 398.7 C340.1 398.4 340.2 398.2 340.3 397.9 C340.4 397.7 340.6 397.4 340.7 397.2 C340.9 397 341 396.7 341.2 396.5 C341.3 396.3 341.5 396.1 341.7 395.9 C341.9 395.7 342 395.5 342.2 395.3 C342.4 395.2 342.6 395 342.8 394.9 C343 394.7 343.2 394.6 343.4 394.5 C343.6 394.4 343.8 394.3 344 394.2 C344.2 394.1 344.5 394 344.6 394" fill="none" stroke="#666" stroke-width="0.8"/>
<path d="M340.2 397.2 L345 401.2" fill="none" stroke="#666" stroke-width="0.7"/>
<path d="M341.2 394.8 L340.2 397.2 L339.4 400.8" fill="none" stroke="#777" stroke-width="0.7"/>
<path d="M330.9 423 L411.7 376.6 L413.6 377.7 L424.6 371.2 C427.5 370 430.3 371.8 430.6 375 C430.6 379 428.5 382.5 426 385.1 C421 390.5 414 396 410 398.9 C405 402.5 398 406.5 392 409.9 L334.9 443.6 C331.5 445.6 327.5 447.6 324 447 C320.5 446.2 319.3 443 319.8 439.6 C320.6 434.6 323.5 430 325.7 428.1 C327.5 426 329.3 424.2 330.9 423 Z" fill="#fff" stroke="#3a3a3a" stroke-width="0.95"/>
<path d="M330.9 423 L337.1 426.4" fill="none" stroke="#3a3a3a" stroke-width="0.8"/>
<path d="M411.7 376.6 L418.6 380.6" fill="none" stroke="#3a3a3a" stroke-width="0.8"/>
<path d="M337.1 426.4 L418.6 380.6" fill="none" stroke="#3a3a3a" stroke-width="0.8"/>
<path d="M337.1 426.4 L337.6 429.2" fill="none" stroke="#666" stroke-width="0.7"/>
<path d="M339 428.6 L391 399.5" fill="none" stroke="#777" stroke-width="0.6"/>
<path d="M340.2 430 L391.6 401.2" fill="none" stroke="#888" stroke-width="0.6" stroke-dasharray="2 1"/>
<path d="M340.3 429.9 L391.6 400.6 C393.6 399.8 394.6 402.4 392.8 403.8 L341.2 434.5 C338.4 435.8 337.3 431.6 340.3 429.9 Z" fill="none" stroke="#3a3a3a" stroke-width="0.85"/>
<path d="M324.6 438.4 L329.7 436.6" fill="none" stroke="#333" stroke-width="1.4"/>
<path d="M420.9 380.6 L426 377.7" fill="none" stroke="#333" stroke-width="1.4"/>
<path d="M381.4 480 C382.5 479.8 383.6 480.5 384.3 481.1 C385 481.7 385.4 482.7 385.7 483.6 C386.1 484.5 385.7 485.7 386.4 486.4 C387.1 487.1 389 487 390 487.9 C391 488.7 391.8 490 392.1 491.4 C392.5 492.9 391.9 495.2 392.1 496.4 C392.4 497.6 393.2 498 393.6 498.6 C394 499.2 395 498.7 394.6 500 C394.3 501.3 392.3 505.4 391.4 506.4 C390.5 507.5 390.1 506.1 389.3 506.4 C388.5 506.8 387.6 507.7 386.4 508.6 C385.2 509.4 383.7 510.5 382.1 511.4 C380.6 512.3 378.1 513.1 377.1 513.9 C376.2 514.8 377 515.9 376.4 516.4 C375.8 517 374.8 517.3 373.6 517.1 C372.4 517 370.5 516.3 369.3 515.7 C368 515.1 366.5 514.3 366.1 513.6 C365.6 512.9 366.2 512.3 366.4 511.4 C366.7 510.6 367.4 509.6 367.5 508.6 C367.6 507.5 367.7 506 367.1 505 C366.6 504 365.1 503.9 364.3 502.9 C363.5 501.8 362.7 500.1 362.5 498.6 C362.3 497 362.3 495.4 362.9 493.6 C363.4 491.8 364.6 489.4 365.7 487.9 C366.8 486.3 367.9 485.2 369.3 484.3 C370.7 483.3 372.9 482.5 374.3 482.1 C375.7 481.8 376.7 482.5 377.9 482.1 C379 481.8 380.4 480.2 381.4 480 Z" fill="#fff" stroke="#3a3a3a" stroke-width="0.9"/>
<path d="M377.9 482.1 C377.5 482.7 376.7 484.2 375.7 485.7 C374.8 487.3 373.2 489.3 372.1 491.4 C371.1 493.6 370.1 496.3 369.6 498.6 C369.2 500.8 369.1 503 369.4 505 C369.7 507 370.7 509.4 371.4 510.7 C372.1 512 373.3 512.6 373.7 513" fill="none" stroke="#555" stroke-width="0.8"/>
<path d="M374.3 482.1 C374 482.7 373.3 484.2 372.5 485.7 C371.7 487.3 370.2 489.3 369.3 491.4 C368.4 493.6 367.5 496.3 367.1 498.6 C366.8 500.8 367.1 503.9 367.1 505" fill="none" stroke="#777" stroke-width="0.6"/>
<ellipse cx="381.4" cy="499.6" rx="10.6" ry="6.4" transform="rotate(-60 381.4 499.6)" fill="none" stroke="#3a3a3a" stroke-width="0.9"/>
<path d="M376.9 507 C376.8 506.9 376.4 506.8 376.2 506.7 C376 506.6 375.8 506.5 375.6 506.3 C375.5 506.2 375.3 506 375.1 505.8 C375 505.6 374.9 505.3 374.7 505.1 C374.6 504.8 374.5 504.6 374.5 504.3 C374.4 504 374.4 503.7 374.3 503.3 C374.3 503 374.3 502.7 374.3 502.3 C374.3 502 374.4 501.6 374.4 501.3 C374.5 500.9 374.5 500.5 374.6 500.2 C374.7 499.8 374.8 499.4 375 499 C375.1 498.7 375.3 498.3 375.4 497.9 C375.6 497.5 375.8 497.2 376 496.8 C376.2 496.5 376.4 496.1 376.7 495.8 C376.9 495.4 377.1 495.1 377.4 494.8 C377.6 494.5 377.9 494.2 378.2 493.9 C378.5 493.6 378.7 493.4 379 493.1 C379.3 492.9 379.6 492.7 379.9 492.5 C380.2 492.3 380.5 492.1 380.8 492 C381.1 491.8 381.4 491.7 381.6 491.6 C381.9 491.5 382.2 491.4 382.5 491.4 C382.8 491.3 383 491.3 383.3 491.3 C383.5 491.4 383.8 491.4 384 491.5 C384.3 491.5 384.6 491.7 384.7 491.8" fill="none" stroke="#555" stroke-width="0.8"/>
<path d="M388.6 502.1 L393.9 499.3" fill="none" stroke="#3a3a3a" stroke-width="0.9"/>
<path d="M389.3 505.7 L390.7 506.4 L394.6 500" fill="none" stroke="#555" stroke-width="0.8"/>
<path d="M376.4 504.3 L380.7 506.4" fill="none" stroke="#444" stroke-width="1.3"/>
<path d="M375.7 506.4 L379.3 508.2" fill="none" stroke="#555" stroke-width="1"/>
<ellipse cx="380.7" cy="485.9" rx="1.9" ry="1.2" transform="rotate(-60 380.7 485.9)" fill="none" stroke="#3a3a3a" stroke-width="0.8"/>
<ellipse cx="370" cy="487.7" rx="1.9" ry="1.2" transform="rotate(-60 370 487.7)" fill="none" stroke="#3a3a3a" stroke-width="0.8"/>
<ellipse cx="374.3" cy="513.6" rx="2.1" ry="1.4" transform="rotate(-60 374.3 513.6)" fill="none" stroke="#3a3a3a" stroke-width="0.8"/>
<path d="M380 484.3 L380.1 488.2" fill="none" stroke="#666" stroke-width="0.7"/>
<path d="M382.5 483.9 L382.6 487.5" fill="none" stroke="#666" stroke-width="0.7"/>
<clipPath id="cp"><rect x="380" y="460" width="130" height="116.6"/></clipPath><g clip-path="url(#cp)">
<path d="M401.3 573.3 C400.6 572.9 398.6 572 397.5 571.1 C396.3 570.3 395.2 569.3 394.2 568.1 C393.3 567 392.4 565.7 391.6 564.3 C390.9 562.9 390.2 561.4 389.6 559.7 C389.1 558.1 388.7 556.3 388.4 554.5 C388.1 552.7 387.9 550.7 387.8 548.7 C387.8 546.7 387.8 544.7 388 542.5 C388.2 540.4 388.5 538.2 388.9 536 C389.3 533.8 389.9 531.5 390.5 529.3 C391.2 527 391.9 524.7 392.8 522.5 C393.7 520.2 394.7 518 395.7 515.8 C396.8 513.6 398 511.4 399.3 509.3 C400.5 507.2 401.9 505.1 403.3 503.1 C404.7 501.1 406.2 499.2 407.7 497.4 C409.3 495.6 410.9 493.8 412.5 492.2 C414.1 490.6 415.8 489.1 417.6 487.7 C419.3 486.3 421 485.1 422.7 484 C424.5 482.8 426.3 481.8 428 481 C429.7 480.2 431.5 479.5 433.2 479 C434.9 478.4 436.6 478.1 438.2 477.8 C439.9 477.6 441.5 477.5 443 477.6 C444.6 477.7 446.1 478 447.5 478.4 C448.9 478.8 450.2 479.4 451.5 480.1 C452.8 480.8 454.4 482.2 455 482.7" fill="none" stroke="#3a3a3a" stroke-width="0.9"/>
<path d="M455 482.7 L466.7 490" fill="none" stroke="#3a3a3a" stroke-width="0.9"/>
<path d="M401.3 573.3 L413.4 577.8" fill="none" stroke="#3a3a3a" stroke-width="0.9"/>
<ellipse cx="437" cy="531.8" rx="51.8" ry="30.4" transform="rotate(-60.5 437 531.8)" fill="#fff" stroke="#3a3a3a" stroke-width="0.9"/>
<path d="M399.8 570.8 C399.3 570.3 397.6 568.9 396.6 567.7 C395.7 566.6 394.8 565.3 394 563.9 C393.3 562.4 392.7 560.9 392.1 559.2 C391.6 557.5 391.2 555.7 391 553.9 C390.7 552 390.6 550 390.6 548 C390.6 546 390.7 543.8 390.9 541.7 C391.2 539.5 391.5 537.3 392 535 C392.5 532.8 393.1 530.5 393.8 528.2 C394.6 526 395.4 523.7 396.4 521.4 C397.3 519.2 398.4 516.9 399.5 514.7 C400.7 512.5 401.9 510.3 403.3 508.3 C404.6 506.2 406 504.1 407.5 502.2 C409 500.3 410.5 498.4 412.1 496.7 C413.7 494.9 415.4 493.3 417.1 491.8 C418.8 490.2 420.5 488.8 422.2 487.6 C424 486.3 425.8 485.2 427.5 484.2 C429.3 483.3 431 482.4 432.7 481.8 C434.5 481.1 436.2 480.6 437.9 480.3 C439.5 479.9 441.2 479.7 442.8 479.7 C444.3 479.7 445.9 479.9 447.3 480.2 C448.8 480.5 450.8 481.4 451.5 481.6" fill="none" stroke="#888" stroke-width="0.6" stroke-dasharray="4 1.3"/>
<path d="M405.3 574.4 C404.8 573.9 402.9 572.6 401.9 571.5 C400.9 570.4 399.9 569.2 399.1 567.8 C398.3 566.5 397.6 565 397 563.3 C396.4 561.7 395.9 560 395.6 558.2 C395.2 556.3 395 554.4 394.9 552.4 C394.8 550.4 394.8 548.3 395 546.2 C395.1 544.1 395.4 541.8 395.8 539.6 C396.2 537.4 396.7 535.1 397.4 532.8 C398 530.6 398.8 528.3 399.6 526 C400.5 523.7 401.5 521.4 402.6 519.2 C403.7 517 404.8 514.8 406.1 512.7 C407.4 510.5 408.7 508.4 410.2 506.4 C411.6 504.4 413.1 502.5 414.7 500.7 C416.2 498.8 417.9 497.1 419.5 495.5 C421.2 493.9 422.9 492.4 424.6 491 C426.4 489.6 428.1 488.4 429.9 487.3 C431.7 486.2 433.4 485.2 435.2 484.5 C437 483.7 438.7 483 440.4 482.5 C442.2 482 443.9 481.7 445.5 481.5 C447.2 481.4 448.8 481.4 450.3 481.5 C451.8 481.7 453.3 482 454.7 482.5 C456.1 483 458 484.1 458.7 484.4" fill="none" stroke="#666" stroke-width="0.7" stroke-dasharray="8 1.5 1.5 1.5"/>
<path d="M429.6 574.9 C428.8 575.1 426.5 575.6 425 575.7 C423.6 575.9 422.1 575.9 420.7 575.7 C419.3 575.5 418 575.2 416.8 574.7 C415.5 574.3 414.3 573.7 413.2 572.9 C412.1 572.2 411.1 571.3 410.2 570.3 C409.3 569.3 408.5 568.1 407.7 566.9 C407 565.6 406.4 564.2 405.9 562.8 C405.4 561.3 405 559.7 404.7 558 C404.4 556.3 404.2 554.6 404.1 552.7 C404.1 550.9 404.1 549 404.3 547 C404.5 545.1 404.7 543.1 405.1 541.1 C405.5 539 406 537 406.6 534.9 C407.2 532.8 408 530.7 408.8 528.7 C409.6 526.6 410.5 524.5 411.5 522.5 C412.5 520.5 413.6 518.5 414.7 516.6 C415.9 514.6 417.2 512.7 418.5 510.9 C419.8 509.1 421.2 507.4 422.6 505.7 C424 504.1 425.5 502.5 427 501 C428.5 499.6 430.1 498.2 431.7 497 C433.3 495.8 434.9 494.7 436.5 493.7 C438.1 492.7 439.7 491.9 441.3 491.2 C442.9 490.5 445.2 489.8 446 489.5" fill="none" stroke="#888" stroke-width="0.6" stroke-dasharray="5 1.3"/>
<ellipse cx="437.6" cy="530.6" rx="30.2" ry="18" transform="rotate(-58 437.6 530.6)" fill="none" stroke="#3a3a3a" stroke-width="0.9"/>
</g>
<path d="M453 505.5 C453.8 507.1 457.5 511.2 458 515 C458.5 518.8 457.5 523.8 456.2 528 C454.9 532.2 452.5 536.3 450.2 540 C447.9 543.7 445 547.2 442.2 550 C439.4 552.8 436.1 555.2 433.2 556.5 C430.3 557.8 426.4 557.5 425 557.7" fill="none" stroke="#888" stroke-width="0.6" stroke-dasharray="4 1.3"/>
<path d="M440.5 505.5 L440.2 516.5" fill="none" stroke="#555" stroke-width="0.8"/>
<path d="M445.5 504 L445.8 518.5" fill="none" stroke="#555" stroke-width="0.8"/>
<path d="M426 517.5 L434 521.5 L439.5 519 L445.8 518.5" fill="none" stroke="#3a3a3a" stroke-width="0.8"/>
<path d="M434 521.5 L429.2 521.8 L429.2 525.5" fill="none" stroke="#555" stroke-width="0.8"/>
<path d="M429 525.5 L442 533" fill="none" stroke="#333" stroke-width="1.5"/>
<path d="M431.2 521.2 L444.2 527.5" fill="none" stroke="#666" stroke-width="0.7"/>
<path d="M442 533 L443.5 528" fill="none" stroke="#666" stroke-width="0.7"/>
<ellipse cx="436.6" cy="516.1" rx="2.6" ry="1.7" transform="rotate(-60 436.6 516.1)" fill="none" stroke="#3a3a3a" stroke-width="0.8"/>
<ellipse cx="446.5" cy="529.6" rx="2.8" ry="1.8" transform="rotate(-60 446.5 529.6)" fill="none" stroke="#3a3a3a" stroke-width="0.8"/>
<ellipse cx="423.5" cy="541.6" rx="2.6" ry="1.7" transform="rotate(-60 423.5 541.6)" fill="none" stroke="#3a3a3a" stroke-width="0.8"/>
<path d="M419 530 L426.5 534.5 L428.5 542 L426 548.2" fill="none" stroke="#3a3a3a" stroke-width="0.8"/>
<path d="M426 548.5 C427 547.9 430.2 546.4 432 545 C433.8 543.6 435.6 541.8 437 540 C438.4 538.2 439.9 535.4 440.5 534.5" fill="none" stroke="#3a3a3a" stroke-width="0.8"/>
<path d="M424.5 541.5 L428.5 542" fill="none" stroke="#666" stroke-width="0.7"/>
<path d="M410.3 161.7 L409.4 181.4 L434.3 181.4 L434.3 175 L448.9 166.4 L448.9 160.9 L436 154 L416.3 165.1 Z" fill="none" stroke="#5a5a5a" stroke-width="0.9"/>
<path d="M434.3 181.4 L434.3 175" fill="none" stroke="#3a3a3a" stroke-width="1.1"/>
<path d="M434.3 175 L448.9 166.4" fill="none" stroke="#444" stroke-width="1"/>
<path d="M436 154 L448.9 160.9" fill="none" stroke="#444" stroke-width="1"/>
<path d="M434.3 175 L429.1 172.4" fill="none" stroke="#555" stroke-width="0.9"/>
<path d="M429.1 172.4 L447.6 162.1" fill="none" stroke="#999" stroke-width="0.6"/>
<path d="M420.1 175.9 L429.1 175.9" fill="none" stroke="#8a8a8a" stroke-width="1.2"/>
<path d="M209.3 192.9 L230.7 205" fill="none" stroke="#6e6e6e" stroke-width="0.6" stroke-dasharray="5 1.5 1 1.5"/>
<path d="M196.4 207.1 L222.9 222.1" fill="none" stroke="#6e6e6e" stroke-width="0.6" stroke-dasharray="5 1.5 1 1.5"/>
<path d="M252 217.5 L308 250" fill="none" stroke="#6e6e6e" stroke-width="0.6" stroke-dasharray="5 1.5 1 1.5"/>
<path d="M259 242 L304 268" fill="none" stroke="#6e6e6e" stroke-width="0.6" stroke-dasharray="5 1.5 1 1.5"/>
<path d="M338.5 267.2 L342 269.2" fill="none" stroke="#6e6e6e" stroke-width="0.6" stroke-dasharray="5 1.5 1 1.5"/>
<path d="M374.5 288 L384.5 293.7" fill="none" stroke="#6e6e6e" stroke-width="0.6" stroke-dasharray="5 1.5 1 1.5"/>
<path d="M388 296 L400 303" fill="none" stroke="#6e6e6e" stroke-width="0.6" stroke-dasharray="5 1.5 1 1.5"/>
<path d="M401 303.5 L421 314" fill="none" stroke="#6e6e6e" stroke-width="0.6" stroke-dasharray="5 1.5 1 1.5"/>
<path d="M423 315 L436 322.5" fill="none" stroke="#6e6e6e" stroke-width="0.6" stroke-dasharray="5 1.5 1 1.5"/>
<path d="M437 323 L444.5 327" fill="none" stroke="#6e6e6e" stroke-width="0.6" stroke-dasharray="5 1.5 1 1.5"/>
<path d="M461.5 337.5 L483 350" fill="none" stroke="#6e6e6e" stroke-width="0.6" stroke-dasharray="5 1.5 1 1.5"/>
<path d="M311.3 292.6 L307.1 290.2 L323.6 280 L317 276" fill="none" stroke="#6e6e6e" stroke-width="0.6" stroke-dasharray="3 1.5"/>
<path d="M326.4 240.5 L329 242" fill="none" stroke="#6e6e6e" stroke-width="0.6" stroke-dasharray="5 1.5 1 1.5"/>
<path d="M429.3 283 L416.7 286.9" fill="none" stroke="#6e6e6e" stroke-width="0.6" stroke-dasharray="4 1.5 1 1.5"/>
<path d="M432.5 287.2 L433.2 299.5" fill="none" stroke="#6e6e6e" stroke-width="0.8" stroke-dasharray="1.2 1.6"/>
<path d="M377.5 264.5 L372.5 268" fill="none" stroke="#888" stroke-width="0.5"/>
<path d="M305.4 187.3 L303.5 189.5" fill="none" stroke="#6e6e6e" stroke-width="0.6"/>
<path d="M308.5 184.5 L305.4 187.3" fill="none" stroke="#999" stroke-width="0.5"/>
<path d="M334 235.7 L330.5 240" fill="none" stroke="#6e6e6e" stroke-width="0.6"/>
<path d="M347.6 236.2 L347.6 240.6" fill="none" stroke="#333" stroke-width="0.9"/>
<path d="M368.6 242.2 L360.7 240.4" fill="none" stroke="#6e6e6e" stroke-width="0.7" stroke-dasharray="1.2 1.6"/>
<path d="M359 160.3 L356.5 161.4 L353 163.4" fill="none" stroke="#6e6e6e" stroke-width="0.6"/>
<path d="M364.5 156 L359 160.3" fill="none" stroke="#7a7a3a" stroke-width="0.5"/>
<path d="M305.7 300.4 L310.4 298.9" fill="none" stroke="#6e6e6e" stroke-width="0.6" stroke-dasharray="2 1.3"/>
<path d="M313.2 306.4 L318.6 302.5" fill="none" stroke="#6e6e6e" stroke-width="0.5"/>
<path d="M324.3 313.6 L327.9 311.1" fill="none" stroke="#6e6e6e" stroke-width="0.5"/>
<path d="M259.8 327.6 L263 329.4" fill="none" stroke="#6e6e6e" stroke-width="0.6" stroke-dasharray="5 1.5 1 1.5"/>
<path d="M270 333.4 L271.5 334.2" fill="none" stroke="#6e6e6e" stroke-width="0.6" stroke-dasharray="5 1.5 1 1.5"/>
<path d="M279.5 338.6 L291.4 345.4" fill="none" stroke="#6e6e6e" stroke-width="0.6" stroke-dasharray="5 1.5 1 1.5"/>
<path d="M263 320.5 L259 324.5" fill="none" stroke="#6e6e6e" stroke-width="0.5"/>
<path d="M275 322.2 L268.5 328.5" fill="none" stroke="#6e6e6e" stroke-width="0.5" stroke-dasharray="2 1.3"/>
<path d="M287 330.5 L277.5 334.5" fill="none" stroke="#6e6e6e" stroke-width="0.5" stroke-dasharray="2 1.3"/>
<path d="M237.9 338.6 L247 343.7" fill="none" stroke="#6e6e6e" stroke-width="0.6" stroke-dasharray="5 1.5 1 1.5"/>
<path d="M264.8 353.3 L277 360.4" fill="none" stroke="#6e6e6e" stroke-width="0.6" stroke-dasharray="5 1.5 1 1.5"/>
<path d="M240.1 363.3 L250 355" fill="none" stroke="#6e6e6e" stroke-width="0.5" stroke-dasharray="3 1.3"/>
<path d="M313.5 358.3 L334.5 370.5" fill="none" stroke="#6e6e6e" stroke-width="0.6" stroke-dasharray="5 1.5 1 1.5"/>
<path d="M311.3 381.2 L325.2 388.8" fill="none" stroke="#6e6e6e" stroke-width="0.6" stroke-dasharray="5 1.5 1 1.5"/>
<path d="M325 337 L311.5 345" fill="none" stroke="#6e6e6e" stroke-width="0.6" stroke-dasharray="4 1.5 1 1.5"/>
<path d="M350.9 384.6 L346.3 389.1" fill="none" stroke="#6e6e6e" stroke-width="0.6" stroke-dasharray="3 1.3"/>
<path d="M348.3 401.3 L357 406.5" fill="none" stroke="#6e6e6e" stroke-width="0.6" stroke-dasharray="5 1.5 1 1.5"/>
<path d="M395.7 371.6 L402.6 378.9" fill="none" stroke="#6e6e6e" stroke-width="0.6" stroke-dasharray="3 1.3"/>
<path d="M268.5 421.5 L269.5 422" fill="none" stroke="#6e6e6e" stroke-width="0.6" stroke-dasharray="5 1.5 1 1.5"/>
<path d="M287.9 432.9 L292.9 435.7 L308.6 427.6 L310.6 427.6 L323.6 435" fill="none" stroke="#6e6e6e" stroke-width="0.6" stroke-dasharray="5 1.3 1 1.3"/>
<path d="M312 429.3 L319 433.2" fill="none" stroke="#6e6e6e" stroke-width="0.6" stroke-dasharray="5 1.5 1 1.5"/>
<path d="M330 439.4 L364 458.5" fill="none" stroke="#6e6e6e" stroke-width="0.6" stroke-dasharray="5 1.5 1 1.5"/>
<path d="M254 426 L257.1 421.9" fill="none" stroke="#6e6e6e" stroke-width="0.5"/>
<path d="M260 434.3 L270 425.7" fill="none" stroke="#6e6e6e" stroke-width="0.5"/>
<path d="M269.3 441.4 L274.3 430.7" fill="none" stroke="#6e6e6e" stroke-width="0.5" stroke-dasharray="2 1.3"/>
<path d="M282.1 439 L282.9 435" fill="none" stroke="#6e6e6e" stroke-width="0.5" stroke-dasharray="2 1.3"/>
<path d="M372.2 414.3 L383.4 421.7" fill="none" stroke="#6e6e6e" stroke-width="0.6" stroke-dasharray="5 1.5 1 1.5"/>
<path d="M390 427 L394.5 429" fill="none" stroke="#6e6e6e" stroke-width="0.6" stroke-dasharray="5 1.5 1 1.5"/>
<path d="M400.5 432 L403 433.3" fill="none" stroke="#6e6e6e" stroke-width="0.6" stroke-dasharray="5 1.5 1 1.5"/>
<path d="M409.8 437.2 L411.6 438.3" fill="none" stroke="#6e6e6e" stroke-width="0.6" stroke-dasharray="5 1.5 1 1.5"/>
<path d="M418.2 442.4 L420.2 443.6" fill="none" stroke="#6e6e6e" stroke-width="0.6" stroke-dasharray="5 1.5 1 1.5"/>
<path d="M427 447.8 L431.5 450.5" fill="none" stroke="#6e6e6e" stroke-width="0.6" stroke-dasharray="5 1.5 1 1.5"/>
<path d="M397.9 416 L390.1 421.1" fill="none" stroke="#6e6e6e" stroke-width="0.5"/>
<path d="M408.1 421.8 L401.1 426.9" fill="none" stroke="#6e6e6e" stroke-width="0.5"/>
<path d="M419.1 426.9 L410.7 431.7" fill="none" stroke="#6e6e6e" stroke-width="0.5" stroke-dasharray="2 1.3"/>
<path d="M426.8 432.7 L419.1 436.6" fill="none" stroke="#6e6e6e" stroke-width="0.5"/>
<path d="M439 439.1 L428.7 442.4" fill="none" stroke="#6e6e6e" stroke-width="0.5" stroke-dasharray="2 1.3"/>
<path d="M455.1 445.6 L445.4 454.6" fill="none" stroke="#6e6e6e" stroke-width="0.5" stroke-dasharray="3 1.3"/>
<path d="M345.5 472.5 L349.5 474.8" fill="none" stroke="#6e6e6e" stroke-width="0.6" stroke-dasharray="5 1.5 1 1.5"/>
<path d="M356.5 479.5 L365 484.3" fill="none" stroke="#6e6e6e" stroke-width="0.6" stroke-dasharray="5 1.5 1 1.5"/>
<path d="M357.1 504.3 L366 509" fill="none" stroke="#6e6e6e" stroke-width="0.6" stroke-dasharray="5 1.5 1 1.5"/>
<path d="M377 515.5 L390 522.1 L399 527" fill="none" stroke="#6e6e6e" stroke-width="0.6" stroke-dasharray="5 1.5 1 1.5"/>
<path d="M423.5 541.6 L461 564.3" fill="none" stroke="#6e6e6e" stroke-width="0.6" stroke-dasharray="5 1.5 1 1.5"/>
<path d="M388 503.3 L400 510.2" fill="none" stroke="#6e6e6e" stroke-width="0.6" stroke-dasharray="5 1.5 1 1.5"/>
<path d="M426.5 518 L469 549" fill="none" stroke="#6e6e6e" stroke-width="0.6" stroke-dasharray="5 1.5 1 1.5"/>
<path d="M429 525.5 L418 519.5" fill="none" stroke="#6e6e6e" stroke-width="0.5" stroke-dasharray="5 1.5 1 1.5"/>
<path d="M329 476 L326 478.5" fill="none" stroke="#6e6e6e" stroke-width="0.5"/>
<path d="M343.5 485.5 L340.5 488" fill="none" stroke="#6e6e6e" stroke-width="0.5"/>
<path d="M396 481 L389.5 486.5" fill="none" stroke="#6e6e6e" stroke-width="0.6"/>
<path d="M477 558 L468 563" fill="none" stroke="#6e6e6e" stroke-width="0.5"/>
<path d="M482 561.5 L474 566.5" fill="none" stroke="#6e6e6e" stroke-width="0.5"/>
<path d="M493 566.5 L486 572.5" fill="none" stroke="#6e6e6e" stroke-width="0.5" stroke-dasharray="2 1.3"/>
<text x="314" y="182" font-size="8.4" font-weight="bold" fill="#262626" stroke="#262626" stroke-width="0.25" text-anchor="middle">2</text>
<text x="337.9" y="230.9" font-size="8.4" font-weight="bold" fill="#262626" stroke="#262626" stroke-width="0.25" text-anchor="middle">3</text>
<text x="347.8" y="234.4" font-size="8.4" font-weight="bold" fill="#262626" stroke="#262626" stroke-width="0.25" text-anchor="middle">4</text>
<text x="375.2" y="247" font-size="8.4" font-weight="bold" fill="#262626" stroke="#262626" stroke-width="0.25" text-anchor="middle">5</text>
<text x="381.4" y="263.7" font-size="8.4" font-weight="bold" fill="#262626" stroke="#262626" stroke-width="0.25" text-anchor="middle">6</text>
<text x="439" y="281.8" font-size="8.4" font-weight="bold" fill="#262626" stroke="#262626" stroke-width="0.25" text-anchor="middle">9</text>
<text x="467.8" y="316.2" font-size="8.4" font-weight="bold" fill="#262626" stroke="#262626" stroke-width="0.25" text-anchor="middle">10</text>
<text x="297.4" y="305.8" font-size="8.4" font-weight="bold" fill="#262626" stroke="#262626" stroke-width="0.25" text-anchor="middle">4</text>
<text x="305.1" y="315.2" font-size="8.4" font-weight="bold" fill="#262626" stroke="#262626" stroke-width="0.25" text-anchor="middle">7</text>
<text x="322" y="319.9" font-size="8.4" font-weight="bold" fill="#262626" stroke="#262626" stroke-width="0.25" text-anchor="middle">8</text>
<text x="335.5" y="333" font-size="8.4" font-weight="bold" fill="#262626" stroke="#262626" stroke-width="0.25" text-anchor="middle">15</text>
<text x="266.6" y="315.6" font-size="8.4" font-weight="bold" fill="#262626" stroke="#262626" stroke-width="0.25" text-anchor="middle">11</text>
<text x="280.8" y="322.4" font-size="8.4" font-weight="bold" fill="#262626" stroke="#262626" stroke-width="0.25" text-anchor="middle">12</text>
<text x="291.4" y="330.1" font-size="8.4" font-weight="bold" fill="#262626" stroke="#262626" stroke-width="0.25" text-anchor="middle">13</text>
<text x="234.3" y="370.4" font-size="8.4" font-weight="bold" fill="#262626" stroke="#262626" stroke-width="0.25" text-anchor="middle">14</text>
<text x="356.8" y="378.8" font-size="8.4" font-weight="bold" fill="#262626" stroke="#262626" stroke-width="0.25" text-anchor="middle">16</text>
<text x="394.9" y="370.3" font-size="8.4" font-weight="bold" fill="#262626" stroke="#262626" stroke-width="0.25" text-anchor="middle">17</text>
<text x="407.5" y="413.5" font-size="8.4" font-weight="bold" fill="#262626" stroke="#262626" stroke-width="0.25" text-anchor="middle">22</text>
<text x="412.3" y="421.6" font-size="8.4" font-weight="bold" fill="#262626" stroke="#262626" stroke-width="0.25" text-anchor="middle">23</text>
<text x="423.3" y="426.7" font-size="8.4" font-weight="bold" fill="#262626" stroke="#262626" stroke-width="0.25" text-anchor="middle">24</text>
<text x="432.6" y="432.8" font-size="8.4" font-weight="bold" fill="#262626" stroke="#262626" stroke-width="0.25" text-anchor="middle">25</text>
<text x="443.9" y="439.6" font-size="8.4" font-weight="bold" fill="#262626" stroke="#262626" stroke-width="0.25" text-anchor="middle">26</text>
<text x="458.9" y="445.6" font-size="8.4" font-weight="bold" fill="#262626" stroke="#262626" stroke-width="0.25" text-anchor="middle">27</text>
<text x="246.4" y="433.7" font-size="8.4" font-weight="bold" fill="#262626" stroke="#262626" stroke-width="0.25" text-anchor="middle">18</text>
<text x="255.7" y="442.6" font-size="8.4" font-weight="bold" fill="#262626" stroke="#262626" stroke-width="0.25" text-anchor="middle">19</text>
<text x="265.4" y="449" font-size="8.4" font-weight="bold" fill="#262626" stroke="#262626" stroke-width="0.25" text-anchor="middle">20</text>
<text x="281.7" y="452.3" font-size="8.4" font-weight="bold" fill="#262626" stroke="#262626" stroke-width="0.25" text-anchor="middle">21</text>
<text x="327.1" y="481.3" font-size="8.4" font-weight="bold" fill="#262626" stroke="#262626" stroke-width="0.25" text-anchor="middle">5</text>
<text x="341.1" y="491.1" font-size="8.4" font-weight="bold" fill="#262626" stroke="#262626" stroke-width="0.25" text-anchor="middle">4</text>
<text x="398.3" y="482" font-size="8.4" font-weight="bold" fill="#262626" stroke="#262626" stroke-width="0.25" text-anchor="middle">3</text>
<text x="477.4" y="557.6" font-size="8.4" font-weight="bold" fill="#262626" stroke="#262626" stroke-width="0.25" text-anchor="middle">4</text>
<text x="484.2" y="563.2" font-size="8.4" font-weight="bold" fill="#262626" stroke="#262626" stroke-width="0.25" text-anchor="middle">7</text>
<text x="493.1" y="568.3" font-size="8.4" font-weight="bold" fill="#262626" stroke="#262626" stroke-width="0.25" text-anchor="middle">8</text>
<text x="368.3" y="154.6" font-size="8.4" font-weight="bold" fill="#262626" stroke="#262626" stroke-width="0.25" text-anchor="middle">1</text>
<rect x="359.6" y="142.6" width="16.8" height="16.8" fill="#cfd8b8" stroke="#63a34a" stroke-width="1.4"/>
<rect x="360.6" y="144.6" width="12.6" height="14" fill="#dbea08"/>
<text x="368.3" y="154.8" font-size="8.4" font-weight="bold" fill="#222" stroke="#222" stroke-width="0.25" text-anchor="middle">1</text>
<rect x="305.8" y="170.1" width="16.7" height="16.8" fill="#8c8c8c" fill-opacity="0.22" stroke="#6a6a6a" stroke-opacity="0.6" stroke-width="0.9"/>
<rect x="333" y="219.4" width="9" height="15.9" fill="#8c8c8c" fill-opacity="0.22" stroke="#6a6a6a" stroke-opacity="0.6" stroke-width="0.9"/>
<rect x="343" y="222.8" width="9.3" height="16.1" fill="#8c8c8c" fill-opacity="0.22" stroke="#6a6a6a" stroke-opacity="0.6" stroke-width="0.9"/>
<rect x="366.7" y="234.1" width="16.7" height="16.6" fill="#8c8c8c" fill-opacity="0.22" stroke="#6a6a6a" stroke-opacity="0.6" stroke-width="0.9"/>
<rect x="373.5" y="252.8" width="15.8" height="16.1" fill="#8c8c8c" fill-opacity="0.22" stroke="#6a6a6a" stroke-opacity="0.6" stroke-width="0.9"/>
<rect x="429.7" y="270" width="16.8" height="16.5" fill="#8c8c8c" fill-opacity="0.22" stroke="#6a6a6a" stroke-opacity="0.6" stroke-width="0.9"/>
<rect x="454.8" y="304.6" width="25.2" height="16.5" fill="#8c8c8c" fill-opacity="0.22" stroke="#6a6a6a" stroke-opacity="0.6" stroke-width="0.9"/>
<rect x="288.7" y="297.5" width="16.9" height="9.1" fill="#8c8c8c" fill-opacity="0.22" stroke="#6a6a6a" stroke-opacity="0.6" stroke-width="0.9"/>
<rect x="297.3" y="307.5" width="15.6" height="8.5" fill="#8c8c8c" fill-opacity="0.22" stroke="#6a6a6a" stroke-opacity="0.6" stroke-width="0.9"/>
<rect x="313.9" y="310.6" width="16.6" height="12.2" fill="#8c8c8c" fill-opacity="0.22" stroke="#6a6a6a" stroke-opacity="0.6" stroke-width="0.9"/>
<rect x="323" y="324" width="25" height="11.5" fill="#8c8c8c" fill-opacity="0.22" stroke="#6a6a6a" stroke-opacity="0.6" stroke-width="0.9"/>
<rect x="253.9" y="307.8" width="25.3" height="7" fill="#8c8c8c" fill-opacity="0.22" stroke="#6a6a6a" stroke-opacity="0.6" stroke-width="0.9"/>
<rect x="268.9" y="315.6" width="24.3" height="6.2" fill="#8c8c8c" fill-opacity="0.22" stroke="#6a6a6a" stroke-opacity="0.6" stroke-width="0.9"/>
<rect x="278.6" y="322.6" width="25.7" height="7.5" fill="#8c8c8c" fill-opacity="0.22" stroke="#6a6a6a" stroke-opacity="0.6" stroke-width="0.9"/>
<rect x="221.8" y="357.5" width="25.7" height="16.7" fill="#8c8c8c" fill-opacity="0.22" stroke="#6a6a6a" stroke-opacity="0.6" stroke-width="0.9"/>
<rect x="344.4" y="367" width="25" height="16.6" fill="#8c8c8c" fill-opacity="0.22" stroke="#6a6a6a" stroke-opacity="0.6" stroke-width="0.9"/>
<rect x="382.5" y="356.6" width="24.9" height="16.7" fill="#8c8c8c" fill-opacity="0.22" stroke="#6a6a6a" stroke-opacity="0.6" stroke-width="0.9"/>
<rect x="393.5" y="406.1" width="25.6" height="7.2" fill="#8c8c8c" fill-opacity="0.22" stroke="#6a6a6a" stroke-opacity="0.6" stroke-width="0.9"/>
<rect x="399.5" y="415.5" width="24.7" height="4" fill="#8c8c8c" fill-opacity="0.22" stroke="#6a6a6a" stroke-opacity="0.6" stroke-width="0.9"/>
<rect x="410.5" y="420" width="24.6" height="4" fill="#8c8c8c" fill-opacity="0.22" stroke="#6a6a6a" stroke-opacity="0.6" stroke-width="0.9"/>
<rect x="419.5" y="425.8" width="25.5" height="6.3" fill="#8c8c8c" fill-opacity="0.22" stroke="#6a6a6a" stroke-opacity="0.6" stroke-width="0.9"/>
<rect x="431.7" y="432.9" width="24.6" height="4.8" fill="#8c8c8c" fill-opacity="0.22" stroke="#6a6a6a" stroke-opacity="0.6" stroke-width="0.9"/>
<rect x="445.8" y="438.9" width="25.6" height="5" fill="#8c8c8c" fill-opacity="0.22" stroke="#6a6a6a" stroke-opacity="0.6" stroke-width="0.9"/>
<rect x="234.4" y="426.5" width="24.8" height="7" fill="#8c8c8c" fill-opacity="0.22" stroke="#6a6a6a" stroke-opacity="0.6" stroke-width="0.9"/>
<rect x="242.8" y="434.7" width="25.4" height="6.3" fill="#8c8c8c" fill-opacity="0.22" stroke="#6a6a6a" stroke-opacity="0.6" stroke-width="0.9"/>
<rect x="256.5" y="441.8" width="16.7" height="7.4" fill="#8c8c8c" fill-opacity="0.22" stroke="#6a6a6a" stroke-opacity="0.6" stroke-width="0.9"/>
<rect x="273.7" y="439.4" width="16.9" height="16.6" fill="#8c8c8c" fill-opacity="0.22" stroke="#6a6a6a" stroke-opacity="0.6" stroke-width="0.9"/>
<rect x="318.5" y="473.3" width="16.8" height="8.4" fill="#8c8c8c" fill-opacity="0.22" stroke="#6a6a6a" stroke-opacity="0.6" stroke-width="0.9"/>
<rect x="333.3" y="483" width="16.6" height="8" fill="#8c8c8c" fill-opacity="0.22" stroke="#6a6a6a" stroke-opacity="0.6" stroke-width="0.9"/>
<rect x="388.7" y="468.7" width="16.3" height="16.3" fill="#8c8c8c" fill-opacity="0.22" stroke="#6a6a6a" stroke-opacity="0.6" stroke-width="0.9"/>
<rect x="468.6" y="549.7" width="16.6" height="6.4" fill="#8c8c8c" fill-opacity="0.22" stroke="#6a6a6a" stroke-opacity="0.6" stroke-width="0.9"/>
<rect x="474.6" y="557.8" width="16.8" height="3.2" fill="#8c8c8c" fill-opacity="0.22" stroke="#6a6a6a" stroke-opacity="0.6" stroke-width="0.9"/>
<rect x="483.7" y="562" width="16.7" height="3.1" fill="#8c8c8c" fill-opacity="0.22" stroke="#6a6a6a" stroke-opacity="0.6" stroke-width="0.9"/>
<rect x="300" y="576.6" width="300" height="30" fill="#fff"/>
<text x="341" y="577" font-size="8.1" font-weight="bold" fill="#1e1e1e" stroke="#1e1e1e" stroke-width="0.25" text-anchor="start">CQ154321</text>
</svg>
</body></html>
